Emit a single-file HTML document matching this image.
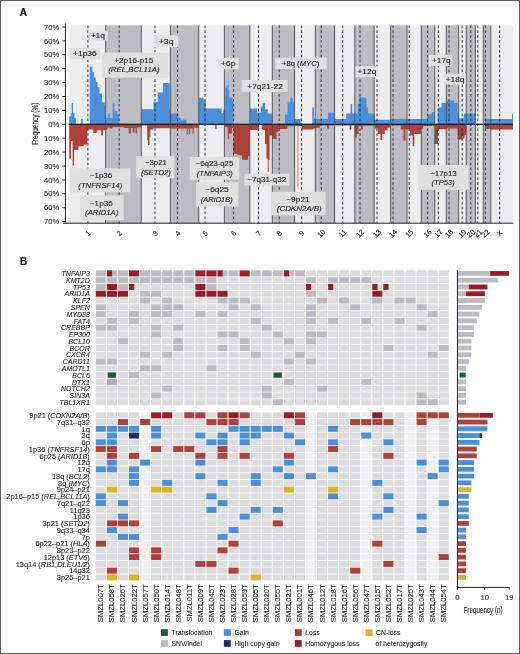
<!DOCTYPE html>
<html><head><meta charset="utf-8"><title>Figure</title>
<style>
html,body{margin:0;padding:0;background:#fff;}
body{width:520px;height:654px;overflow:hidden;}
svg{display:block;font-family:"Liberation Sans", sans-serif;}
svg{will-change:transform}
text{stroke:#222;stroke-width:0.1px;}
text.bx{stroke-width:0.12px;}
</style></head>
<body>
<svg width="520" height="654" viewBox="0 0 520 654">
<rect x="0" y="0" width="520" height="654" fill="#fff"/>
<rect x="68.7" y="25.4" width="36.90" height="197.80" fill="#ececee"/>
<rect x="105.6" y="25.4" width="35.70" height="197.80" fill="#bcbbc2"/>
<rect x="141.3" y="25.4" width="29.10" height="197.80" fill="#ececee"/>
<rect x="170.4" y="25.4" width="28.30" height="197.80" fill="#bcbbc2"/>
<rect x="198.7" y="25.4" width="25.70" height="197.80" fill="#ececee"/>
<rect x="224.4" y="25.4" width="25.40" height="197.80" fill="#bcbbc2"/>
<rect x="249.8" y="25.4" width="22.50" height="197.80" fill="#ececee"/>
<rect x="272.3" y="25.4" width="22.30" height="197.80" fill="#bcbbc2"/>
<rect x="294.6" y="25.4" width="20.70" height="197.80" fill="#ececee"/>
<rect x="315.3" y="25.4" width="19.30" height="197.80" fill="#bcbbc2"/>
<rect x="334.6" y="25.4" width="20.20" height="197.80" fill="#ececee"/>
<rect x="354.8" y="25.4" width="19.40" height="197.80" fill="#bcbbc2"/>
<rect x="374.2" y="25.4" width="16.40" height="197.80" fill="#ececee"/>
<rect x="390.6" y="25.4" width="16.40" height="197.80" fill="#bcbbc2"/>
<rect x="407.0" y="25.4" width="14.30" height="197.80" fill="#ececee"/>
<rect x="421.3" y="25.4" width="13.50" height="197.80" fill="#bcbbc2"/>
<rect x="434.8" y="25.4" width="11.50" height="197.80" fill="#ececee"/>
<rect x="446.3" y="25.4" width="12.40" height="197.80" fill="#bcbbc2"/>
<rect x="458.7" y="25.4" width="7.50" height="197.80" fill="#ececee"/>
<rect x="466.2" y="25.4" width="9.20" height="197.80" fill="#bcbbc2"/>
<rect x="475.4" y="25.4" width="7.90" height="197.80" fill="#ececee"/>
<rect x="483.3" y="25.4" width="7.50" height="197.80" fill="#bcbbc2"/>
<rect x="490.8" y="25.4" width="22.20" height="197.80" fill="#ececee"/>
<rect x="226.7" y="80.5" width="2.5" height="8" fill="#93bbe8"/>
<path d="M69.10,124.30 L69.10,116.30 L70.90,116.30 L70.90,113.60 L71.60,113.60 L71.60,103.10 L73.00,103.10 L73.00,112.80 L74.40,112.80 L74.40,118.00 L75.80,118.00 L75.80,124.30 Z" fill="#4a8fdb"/>
<path d="M81.00,124.30 L81.00,118.90 L82.70,118.90 L82.70,124.30 Z" fill="#4a8fdb"/>
<path d="M89.70,124.30 L89.70,66.70 L92.40,66.70 L92.40,72.30 L94.10,72.30 L94.10,77.60 L95.90,77.60 L95.90,82.00 L97.60,82.00 L97.60,87.30 L99.40,87.30 L99.40,93.40 L102.00,93.40 L102.00,102.20 L104.70,102.20 L104.70,105.70 L105.60,105.70 L105.60,118.00 L108.20,118.00 L108.20,113.60 L110.00,113.60 L110.00,118.00 L112.60,118.00 L112.60,103.10 L114.40,103.10 L114.40,111.00 L117.00,111.00 L117.00,114.50 L118.80,114.50 L118.80,124.30 Z" fill="#4a8fdb"/>
<path d="M141.40,124.30 L141.40,109.20 L153.40,109.20 L153.40,102.20 L157.80,102.20 L157.80,92.50 L163.10,92.50 L163.10,82.90 L169.60,82.90 L169.60,109.20 L170.40,109.20 L170.40,113.60 L178.50,113.60 L178.50,118.00 L181.20,118.00 L181.20,119.80 L186.40,119.80 L186.40,124.30 Z" fill="#4a8fdb"/>
<path d="M198.70,124.30 L198.70,97.80 L203.50,97.80 L203.50,100.50 L205.80,100.50 L205.80,108.40 L221.60,108.40 L221.60,113.00 L223.40,113.00 L223.40,109.20 L224.40,109.20 L224.40,109.20 L225.20,109.20 L225.20,87.60 L226.70,87.60 L226.70,85.00 L228.40,85.00 L228.40,90.00 L229.20,90.00 L229.20,97.70 L232.60,97.70 L232.60,100.00 L233.40,100.00 L233.40,124.30 Z" fill="#4a8fdb"/>
<path d="M249.90,124.30 L249.90,108.40 L257.30,108.40 L257.30,112.80 L260.80,112.80 L260.80,106.60 L262.50,106.60 L262.50,103.10 L265.20,103.10 L265.20,109.20 L267.80,109.20 L267.80,113.60 L272.30,113.60 L272.30,124.30 Z" fill="#4a8fdb"/>
<path d="M285.00,124.30 L285.00,114.50 L287.60,114.50 L287.60,102.20 L290.30,102.20 L290.30,97.80 L292.90,97.80 L292.90,102.20 L294.60,102.20 L294.60,118.90 L300.80,118.90 L300.80,124.30 Z" fill="#4a8fdb"/>
<path d="M312.30,124.30 L312.30,107.50 L314.00,107.50 L314.00,118.90 L315.30,118.90 L315.30,118.90 L328.00,118.90 L328.00,112.80 L334.60,112.80 L334.60,118.90 L346.20,118.90 L346.20,113.60 L350.60,113.60 L350.60,104.00 L352.30,104.00 L352.30,113.60 L357.60,113.60 L357.60,104.00 L359.30,104.00 L359.30,96.90 L362.00,96.90 L362.00,97.80 L366.40,97.80 L366.40,107.50 L368.10,107.50 L368.10,113.60 L375.00,113.60 L375.00,119.80 L390.60,119.80 L390.60,118.90 L407.00,118.90 L407.00,118.90 L421.30,118.90 L421.30,118.90 L427.50,118.90 L427.50,114.50 L431.90,114.50 L431.90,111.90 L434.80,111.90 L434.80,124.30 Z" fill="#4a8fdb"/>
<path d="M437.60,124.30 L437.60,107.50 L441.60,107.50 L441.60,103.10 L446.30,103.10 L446.30,100.40 L454.10,100.40 L454.10,103.10 L457.60,103.10 L457.60,113.00 L458.70,113.00 L458.70,118.30 L463.70,118.30 L463.70,113.70 L466.20,113.70 L466.20,113.60 L475.40,113.60 L475.40,124.30 Z" fill="#4a8fdb"/>
<path d="M485.00,124.30 L485.00,118.90 L490.80,118.90 L490.80,118.90 L512.00,118.90 L512.00,113.60 L513.00,113.60 L513.00,124.30 Z" fill="#4a8fdb"/>
<path d="M69.20,124.30 L69.20,158.50 L70.90,158.50 L70.90,140.90 L72.60,140.90 L72.60,165.50 L74.10,165.50 L74.10,149.70 L78.30,149.70 L78.30,146.20 L83.60,146.20 L83.60,144.40 L87.10,144.40 L87.10,129.50 L89.70,129.50 L89.70,129.50 L93.30,129.50 L93.30,133.00 L96.80,133.00 L96.80,130.30 L101.20,130.30 L101.20,135.60 L103.00,135.60 L103.00,130.30 L105.60,130.30 L105.60,129.50 L107.50,129.50 L107.50,127.60 L109.60,127.60 L109.60,128.50 L112.50,128.50 L112.50,127.00 L124.00,127.00 L124.00,128.00 L128.80,128.00 L128.80,133.40 L130.80,133.40 L130.80,128.00 L132.70,128.00 L132.70,132.50 L134.60,132.50 L134.60,128.00 L135.60,128.00 L135.60,133.40 L137.00,133.40 L137.00,127.60 L141.30,127.60 L141.30,125.60 L147.20,125.60 L147.20,140.00 L148.00,140.00 L148.00,145.00 L149.50,145.00 L149.50,137.00 L150.30,137.00 L150.30,129.50 L153.40,129.50 L153.40,128.20 L170.40,128.20 L170.40,128.60 L186.80,128.60 L186.80,134.50 L187.90,134.50 L187.90,128.60 L189.00,128.60 L189.00,134.50 L190.10,134.50 L190.10,128.60 L192.60,128.60 L192.60,133.50 L193.70,133.50 L193.70,127.70 L198.70,127.70 L198.70,124.30 Z" fill="#b0403a"/>
<path d="M215.30,124.30 L215.30,129.00 L216.60,129.00 L216.60,124.30 Z" fill="#b0403a"/>
<path d="M224.40,124.30 L224.40,127.00 L227.70,127.00 L227.70,139.00 L229.00,139.00 L229.00,133.50 L232.00,133.50 L232.00,128.00 L233.50,128.00 L233.50,153.70 L237.30,153.70 L237.30,155.20 L241.90,155.20 L241.90,159.80 L248.00,159.80 L248.00,156.00 L249.80,156.00 L249.80,130.10 L257.60,130.10 L257.60,128.50 L259.00,128.50 L259.00,125.00 L261.80,125.00 L261.80,129.00 L262.70,129.00 L262.70,130.00 L265.00,130.00 L265.00,144.00 L266.40,144.00 L266.40,158.50 L267.80,158.50 L267.80,172.00 L268.70,172.00 L268.70,160.00 L269.60,160.00 L269.60,135.60 L272.30,135.60 L272.30,139.10 L276.50,139.10 L276.50,132.00 L278.40,132.00 L278.40,129.00 L287.50,129.00 L287.50,126.20 L294.60,126.20 L294.60,126.00 L301.70,126.00 L301.70,129.50 L313.10,129.50 L313.10,128.60 L315.30,128.60 L315.30,127.70 L320.00,127.70 L320.00,125.50 L327.00,125.50 L327.00,128.60 L329.00,128.60 L329.00,125.50 L334.60,125.50 L334.60,125.50 L349.70,125.50 L349.70,129.50 L351.40,129.50 L351.40,125.50 L354.80,125.50 L354.80,137.40 L356.70,137.40 L356.70,133.90 L358.50,133.90 L358.50,125.80 L361.00,125.80 L361.00,129.50 L362.90,129.50 L362.90,125.80 L375.00,125.80 L375.00,128.60 L377.80,128.60 L377.80,133.90 L380.40,133.90 L380.40,140.00 L382.20,140.00 L382.20,133.90 L384.80,133.90 L384.80,130.30 L387.50,130.30 L387.50,127.70 L390.60,127.70 L390.60,125.50 L400.80,125.50 L400.80,129.60 L403.50,129.60 L403.50,140.40 L405.40,140.40 L405.40,129.00 L407.00,129.00 L407.00,129.50 L410.00,129.50 L410.00,135.60 L412.60,135.60 L412.60,146.20 L414.30,146.20 L414.30,133.90 L421.30,133.90 L421.30,128.60 L423.10,128.60 L423.10,126.00 L434.80,126.00 L434.80,144.00 L438.00,144.00 L438.00,129.30 L446.30,129.30 L446.30,128.60 L457.60,128.60 L457.60,139.10 L458.70,139.10 L458.70,139.60 L462.00,139.60 L462.00,138.40 L464.60,138.40 L464.60,135.00 L466.20,135.00 L466.20,124.30 Z" fill="#b0403a"/>
<path d="M485.00,124.30 L485.00,129.00 L490.80,129.00 L490.80,129.50 L513.00,129.50 L513.00,124.30 Z" fill="#b0403a"/>
<line x1="297.9" y1="124.3" x2="297.9" y2="186.5" stroke="#c87570" stroke-width="0.9"/>
<rect x="68.7" y="123.65" width="444.3" height="1.3" fill="#1d1d26"/>
<line x1="105.6" y1="25.4" x2="105.6" y2="223.2" stroke="#4a4a4e" stroke-width="0.9"/>
<line x1="141.3" y1="25.4" x2="141.3" y2="223.2" stroke="#4a4a4e" stroke-width="0.9"/>
<line x1="170.4" y1="25.4" x2="170.4" y2="223.2" stroke="#4a4a4e" stroke-width="0.9"/>
<line x1="198.7" y1="25.4" x2="198.7" y2="223.2" stroke="#4a4a4e" stroke-width="0.9"/>
<line x1="224.4" y1="25.4" x2="224.4" y2="223.2" stroke="#4a4a4e" stroke-width="0.9"/>
<line x1="249.8" y1="25.4" x2="249.8" y2="223.2" stroke="#4a4a4e" stroke-width="0.9"/>
<line x1="272.3" y1="25.4" x2="272.3" y2="223.2" stroke="#4a4a4e" stroke-width="0.9"/>
<line x1="294.6" y1="25.4" x2="294.6" y2="223.2" stroke="#4a4a4e" stroke-width="0.9"/>
<line x1="315.3" y1="25.4" x2="315.3" y2="223.2" stroke="#4a4a4e" stroke-width="0.9"/>
<line x1="334.6" y1="25.4" x2="334.6" y2="223.2" stroke="#4a4a4e" stroke-width="0.9"/>
<line x1="354.8" y1="25.4" x2="354.8" y2="223.2" stroke="#4a4a4e" stroke-width="0.9"/>
<line x1="374.2" y1="25.4" x2="374.2" y2="223.2" stroke="#4a4a4e" stroke-width="0.9"/>
<line x1="390.6" y1="25.4" x2="390.6" y2="223.2" stroke="#4a4a4e" stroke-width="0.9"/>
<line x1="407.0" y1="25.4" x2="407.0" y2="223.2" stroke="#4a4a4e" stroke-width="0.9"/>
<line x1="421.3" y1="25.4" x2="421.3" y2="223.2" stroke="#4a4a4e" stroke-width="0.9"/>
<line x1="434.8" y1="25.4" x2="434.8" y2="223.2" stroke="#4a4a4e" stroke-width="0.9"/>
<line x1="446.3" y1="25.4" x2="446.3" y2="223.2" stroke="#4a4a4e" stroke-width="0.9"/>
<line x1="458.7" y1="25.4" x2="458.7" y2="223.2" stroke="#4a4a4e" stroke-width="0.9"/>
<line x1="466.2" y1="25.4" x2="466.2" y2="223.2" stroke="#4a4a4e" stroke-width="0.9"/>
<line x1="475.4" y1="25.4" x2="475.4" y2="223.2" stroke="#4a4a4e" stroke-width="0.9"/>
<line x1="483.3" y1="25.4" x2="483.3" y2="223.2" stroke="#4a4a4e" stroke-width="0.9"/>
<line x1="490.8" y1="25.4" x2="490.8" y2="223.2" stroke="#4a4a4e" stroke-width="0.9"/>
<line x1="87.9" y1="25.4" x2="87.9" y2="223.2" stroke="#222" stroke-width="0.9" stroke-dasharray="2.7,2.2"/>
<line x1="119.2" y1="25.4" x2="119.2" y2="223.2" stroke="#222" stroke-width="0.9" stroke-dasharray="2.7,2.2"/>
<line x1="155.0" y1="25.4" x2="155.0" y2="223.2" stroke="#222" stroke-width="0.9" stroke-dasharray="2.7,2.2"/>
<line x1="177.5" y1="25.4" x2="177.5" y2="223.2" stroke="#222" stroke-width="0.9" stroke-dasharray="2.7,2.2"/>
<line x1="205.0" y1="25.4" x2="205.0" y2="223.2" stroke="#222" stroke-width="0.9" stroke-dasharray="2.7,2.2"/>
<line x1="233.6" y1="25.4" x2="233.6" y2="223.2" stroke="#222" stroke-width="0.9" stroke-dasharray="2.7,2.2"/>
<line x1="258.5" y1="25.4" x2="258.5" y2="223.2" stroke="#222" stroke-width="0.9" stroke-dasharray="2.7,2.2"/>
<line x1="279.2" y1="25.4" x2="279.2" y2="223.2" stroke="#222" stroke-width="0.9" stroke-dasharray="2.7,2.2"/>
<line x1="301.6" y1="25.4" x2="301.6" y2="223.2" stroke="#222" stroke-width="0.9" stroke-dasharray="2.7,2.2"/>
<line x1="321.2" y1="25.4" x2="321.2" y2="223.2" stroke="#222" stroke-width="0.9" stroke-dasharray="2.7,2.2"/>
<line x1="342.7" y1="25.4" x2="342.7" y2="223.2" stroke="#222" stroke-width="0.9" stroke-dasharray="2.7,2.2"/>
<line x1="360.0" y1="25.4" x2="360.0" y2="223.2" stroke="#222" stroke-width="0.9" stroke-dasharray="2.7,2.2"/>
<line x1="377.0" y1="25.4" x2="377.0" y2="223.2" stroke="#222" stroke-width="0.9" stroke-dasharray="2.7,2.2"/>
<line x1="393.0" y1="25.4" x2="393.0" y2="223.2" stroke="#222" stroke-width="0.9" stroke-dasharray="2.7,2.2"/>
<line x1="409.2" y1="25.4" x2="409.2" y2="223.2" stroke="#222" stroke-width="0.9" stroke-dasharray="2.7,2.2"/>
<line x1="427.6" y1="25.4" x2="427.6" y2="223.2" stroke="#222" stroke-width="0.9" stroke-dasharray="2.7,2.2"/>
<line x1="438.3" y1="25.4" x2="438.3" y2="223.2" stroke="#222" stroke-width="0.9" stroke-dasharray="2.7,2.2"/>
<line x1="449.0" y1="25.4" x2="449.0" y2="223.2" stroke="#222" stroke-width="0.9" stroke-dasharray="2.7,2.2"/>
<line x1="462.2" y1="25.4" x2="462.2" y2="223.2" stroke="#222" stroke-width="0.9" stroke-dasharray="2.7,2.2"/>
<line x1="470.8" y1="25.4" x2="470.8" y2="223.2" stroke="#222" stroke-width="0.9" stroke-dasharray="2.7,2.2"/>
<line x1="477.8" y1="25.4" x2="477.8" y2="223.2" stroke="#222" stroke-width="0.9" stroke-dasharray="2.7,2.2"/>
<line x1="485.4" y1="25.4" x2="485.4" y2="223.2" stroke="#222" stroke-width="0.9" stroke-dasharray="2.7,2.2"/>
<line x1="499.7" y1="25.4" x2="499.7" y2="223.2" stroke="#222" stroke-width="0.9" stroke-dasharray="2.7,2.2"/>
<rect x="88.6" y="30.6" width="19.0" height="9.9" fill="#dfdfe0"/>
<text class="bx" x="97.85" y="38.15" textLength="14.4" lengthAdjust="spacingAndGlyphs" text-anchor="middle" font-size="7.6" fill="#262626">+1q</text>
<rect x="69.2" y="47.9" width="30.8" height="11.5" fill="#dfdfe0"/>
<text class="bx" x="84.85" y="56.25" textLength="23.6" lengthAdjust="spacingAndGlyphs" text-anchor="middle" font-size="7.6" fill="#262626">+1p36</text>
<rect x="101.8" y="52.5" width="66.9" height="25.2" fill="#dfdfe0"/>
<text class="bx" x="133.80" y="63.20" textLength="38.9" lengthAdjust="spacingAndGlyphs" text-anchor="middle" font-size="7.6" fill="#262626">+2p16-p15</text>
<text class="bx" x="133.95" y="72.40" textLength="51.4" lengthAdjust="spacingAndGlyphs" text-anchor="middle" font-size="7.6" font-style="italic" fill="#262626">(REL,BCL11A)</text>
<rect x="153.5" y="35.3" width="24.8" height="11.9" fill="#dfdfe0"/>
<text class="bx" x="166.15" y="43.85" textLength="14.8" lengthAdjust="spacingAndGlyphs" text-anchor="middle" font-size="7.6" fill="#262626">+3q</text>
<rect x="217.4" y="57.8" width="21.1" height="11.5" fill="#dfdfe0"/>
<text class="bx" x="228.15" y="66.15" textLength="14.8" lengthAdjust="spacingAndGlyphs" text-anchor="middle" font-size="7.6" fill="#262626">+6p</text>
<rect x="241.7" y="80.0" width="45.9" height="11.9" fill="#dfdfe0"/>
<text class="bx" x="265.10" y="88.55" textLength="35.5" lengthAdjust="spacingAndGlyphs" text-anchor="middle" font-size="7.6" fill="#262626">+7q21-22</text>
<rect x="275.5" y="57.6" width="51.1" height="11.3" fill="#dfdfe0"/>
<text class="bx" x="300.60" y="65.85" textLength="37.3" lengthAdjust="spacingAndGlyphs" text-anchor="middle" font-size="7.6" fill="#262626">+8q (<tspan font-style="italic">MYC</tspan>)</text>
<rect x="355.5" y="66.2" width="22.5" height="11.0" fill="#dfdfe0"/>
<text class="bx" x="366.90" y="74.30" textLength="18.9" lengthAdjust="spacingAndGlyphs" text-anchor="middle" font-size="7.6" fill="#262626">+12q</text>
<rect x="428.7" y="55.0" width="23.3" height="11.0" fill="#dfdfe0"/>
<text class="bx" x="441.30" y="63.10" textLength="18.5" lengthAdjust="spacingAndGlyphs" text-anchor="middle" font-size="7.6" fill="#262626">+17q</text>
<rect x="443.9" y="73.8" width="22.1" height="10.8" fill="#dfdfe0"/>
<text class="bx" x="455.05" y="81.80" textLength="18.6" lengthAdjust="spacingAndGlyphs" text-anchor="middle" font-size="7.6" fill="#262626">+18q</text>
<rect x="69.4" y="168.3" width="60.9" height="24.0" fill="#dfdfe0"/>
<text class="bx" x="101.00" y="178.40" textLength="22.5" lengthAdjust="spacingAndGlyphs" text-anchor="middle" font-size="7.6" fill="#262626">−1p36</text>
<text class="bx" x="100.35" y="187.60" textLength="44.0" lengthAdjust="spacingAndGlyphs" text-anchor="middle" font-size="7.6" font-style="italic" fill="#262626">(TNFRSF14)</text>
<rect x="80.1" y="195.3" width="43.7" height="24.9" fill="#dfdfe0"/>
<text class="bx" x="101.30" y="205.85" textLength="23.1" lengthAdjust="spacingAndGlyphs" text-anchor="middle" font-size="7.6" fill="#262626">−1p36</text>
<text class="bx" x="101.65" y="215.05" textLength="33.2" lengthAdjust="spacingAndGlyphs" text-anchor="middle" font-size="7.6" font-style="italic" fill="#262626">(ARID1A)</text>
<rect x="136.1" y="156.1" width="38.3" height="22.2" fill="#dfdfe0"/>
<text class="bx" x="155.90" y="165.30" textLength="21.7" lengthAdjust="spacingAndGlyphs" text-anchor="middle" font-size="7.6" fill="#262626">−3p21</text>
<text class="bx" x="155.90" y="174.50" textLength="29.9" lengthAdjust="spacingAndGlyphs" text-anchor="middle" font-size="7.6" font-style="italic" fill="#262626">(SETD2)</text>
<rect x="189.8" y="156.9" width="49.4" height="22.9" fill="#dfdfe0"/>
<text class="bx" x="214.45" y="166.45" textLength="37.8" lengthAdjust="spacingAndGlyphs" text-anchor="middle" font-size="7.6" fill="#262626">−6q23-q25</text>
<text class="bx" x="214.70" y="175.65" textLength="36.1" lengthAdjust="spacingAndGlyphs" text-anchor="middle" font-size="7.6" font-style="italic" fill="#262626">(TNFAIP3)</text>
<rect x="196.0" y="182.1" width="42.6" height="24.4" fill="#dfdfe0"/>
<text class="bx" x="217.05" y="192.40" textLength="23.4" lengthAdjust="spacingAndGlyphs" text-anchor="middle" font-size="7.6" fill="#262626">−6q25</text>
<text class="bx" x="216.70" y="201.60" textLength="32.1" lengthAdjust="spacingAndGlyphs" text-anchor="middle" font-size="7.6" font-style="italic" fill="#262626">(ARID1B)</text>
<rect x="244.3" y="173.7" width="45.0" height="11.7" fill="#dfdfe0"/>
<text class="bx" x="266.80" y="182.15" textLength="38.9" lengthAdjust="spacingAndGlyphs" text-anchor="middle" font-size="7.6" fill="#262626">−7q31-q32</text>
<rect x="271.1" y="191.8" width="54.5" height="23.4" fill="#dfdfe0"/>
<text class="bx" x="297.95" y="201.60" textLength="23.4" lengthAdjust="spacingAndGlyphs" text-anchor="middle" font-size="7.6" fill="#262626">−9p21</text>
<text class="bx" x="299.25" y="210.80" textLength="45.0" lengthAdjust="spacingAndGlyphs" text-anchor="middle" font-size="7.6" font-style="italic" fill="#262626">(CDKN2A/B)</text>
<rect x="418.1" y="165.0" width="50.7" height="24.8" fill="#dfdfe0"/>
<text class="bx" x="443.45" y="175.50" textLength="26.6" lengthAdjust="spacingAndGlyphs" text-anchor="middle" font-size="7.6" fill="#262626">−17p13</text>
<text class="bx" x="443.15" y="184.70" textLength="23.4" lengthAdjust="spacingAndGlyphs" text-anchor="middle" font-size="7.6" font-style="italic" fill="#262626">(TP53)</text>
<line x1="65.4" y1="23.5" x2="65.4" y2="223.7" stroke="#222" stroke-width="1"/>
<line x1="63" y1="223.2" x2="513.4" y2="223.2" stroke="#222" stroke-width="1"/>
<line x1="62.3" y1="221.60" x2="65.4" y2="221.60" stroke="#222" stroke-width="0.9"/>
<text x="59.2" y="224.20" text-anchor="end" font-size="7.65" fill="#2a2a2a">70%</text>
<line x1="62.3" y1="207.70" x2="65.4" y2="207.70" stroke="#222" stroke-width="0.9"/>
<text x="59.2" y="210.30" text-anchor="end" font-size="7.65" fill="#2a2a2a">60%</text>
<line x1="62.3" y1="193.80" x2="65.4" y2="193.80" stroke="#222" stroke-width="0.9"/>
<text x="59.2" y="196.40" text-anchor="end" font-size="7.65" fill="#2a2a2a">50%</text>
<line x1="62.3" y1="179.90" x2="65.4" y2="179.90" stroke="#222" stroke-width="0.9"/>
<text x="59.2" y="182.50" text-anchor="end" font-size="7.65" fill="#2a2a2a">40%</text>
<line x1="62.3" y1="166.00" x2="65.4" y2="166.00" stroke="#222" stroke-width="0.9"/>
<text x="59.2" y="168.60" text-anchor="end" font-size="7.65" fill="#2a2a2a">30%</text>
<line x1="62.3" y1="152.10" x2="65.4" y2="152.10" stroke="#222" stroke-width="0.9"/>
<text x="59.2" y="154.70" text-anchor="end" font-size="7.65" fill="#2a2a2a">20%</text>
<line x1="62.3" y1="138.20" x2="65.4" y2="138.20" stroke="#222" stroke-width="0.9"/>
<text x="59.2" y="140.80" text-anchor="end" font-size="7.65" fill="#2a2a2a">10%</text>
<line x1="62.3" y1="124.30" x2="65.4" y2="124.30" stroke="#222" stroke-width="0.9"/>
<text x="59.2" y="126.90" text-anchor="end" font-size="7.65" fill="#2a2a2a">0%</text>
<line x1="62.3" y1="110.40" x2="65.4" y2="110.40" stroke="#222" stroke-width="0.9"/>
<text x="59.2" y="113.00" text-anchor="end" font-size="7.65" fill="#2a2a2a">10%</text>
<line x1="62.3" y1="96.50" x2="65.4" y2="96.50" stroke="#222" stroke-width="0.9"/>
<text x="59.2" y="99.10" text-anchor="end" font-size="7.65" fill="#2a2a2a">20%</text>
<line x1="62.3" y1="82.60" x2="65.4" y2="82.60" stroke="#222" stroke-width="0.9"/>
<text x="59.2" y="85.20" text-anchor="end" font-size="7.65" fill="#2a2a2a">30%</text>
<line x1="62.3" y1="68.70" x2="65.4" y2="68.70" stroke="#222" stroke-width="0.9"/>
<text x="59.2" y="71.30" text-anchor="end" font-size="7.65" fill="#2a2a2a">40%</text>
<line x1="62.3" y1="54.80" x2="65.4" y2="54.80" stroke="#222" stroke-width="0.9"/>
<text x="59.2" y="57.40" text-anchor="end" font-size="7.65" fill="#2a2a2a">50%</text>
<line x1="62.3" y1="40.90" x2="65.4" y2="40.90" stroke="#222" stroke-width="0.9"/>
<text x="59.2" y="43.50" text-anchor="end" font-size="7.65" fill="#2a2a2a">60%</text>
<line x1="62.3" y1="27.00" x2="65.4" y2="27.00" stroke="#222" stroke-width="0.9"/>
<text x="59.2" y="29.60" text-anchor="end" font-size="7.65" fill="#2a2a2a">70%</text>
<text class="bx" transform="translate(37.9,123.9) rotate(-90) scale(0.78,1)" text-anchor="middle" font-size="8.3" fill="#222">Frequency (%)</text>
<text transform="translate(87.9,233.3) rotate(-45)" text-anchor="middle" y="2.6" font-size="7.3" fill="#2a2a2a">1</text>
<text transform="translate(119.2,233.3) rotate(-45)" text-anchor="middle" y="2.6" font-size="7.3" fill="#2a2a2a">2</text>
<text transform="translate(155.0,233.3) rotate(-45)" text-anchor="middle" y="2.6" font-size="7.3" fill="#2a2a2a">3</text>
<text transform="translate(177.5,233.3) rotate(-45)" text-anchor="middle" y="2.6" font-size="7.3" fill="#2a2a2a">4</text>
<text transform="translate(205.0,233.3) rotate(-45)" text-anchor="middle" y="2.6" font-size="7.3" fill="#2a2a2a">5</text>
<text transform="translate(233.6,233.3) rotate(-45)" text-anchor="middle" y="2.6" font-size="7.3" fill="#2a2a2a">6</text>
<text transform="translate(258.5,233.3) rotate(-45)" text-anchor="middle" y="2.6" font-size="7.3" fill="#2a2a2a">7</text>
<text transform="translate(279.2,233.3) rotate(-45)" text-anchor="middle" y="2.6" font-size="7.3" fill="#2a2a2a">8</text>
<text transform="translate(301.6,233.3) rotate(-45)" text-anchor="middle" y="2.6" font-size="7.3" fill="#2a2a2a">9</text>
<text transform="translate(321.2,233.3) rotate(-45)" text-anchor="middle" y="2.6" font-size="7.3" fill="#2a2a2a">10</text>
<text transform="translate(342.7,233.3) rotate(-45)" text-anchor="middle" y="2.6" font-size="7.3" fill="#2a2a2a">11</text>
<text transform="translate(360.0,233.3) rotate(-45)" text-anchor="middle" y="2.6" font-size="7.3" fill="#2a2a2a">12</text>
<text transform="translate(377.0,233.3) rotate(-45)" text-anchor="middle" y="2.6" font-size="7.3" fill="#2a2a2a">13</text>
<text transform="translate(393.0,233.3) rotate(-45)" text-anchor="middle" y="2.6" font-size="7.3" fill="#2a2a2a">14</text>
<text transform="translate(409.2,233.3) rotate(-45)" text-anchor="middle" y="2.6" font-size="7.3" fill="#2a2a2a">15</text>
<text transform="translate(427.6,233.3) rotate(-45)" text-anchor="middle" y="2.6" font-size="7.3" fill="#2a2a2a">16</text>
<text transform="translate(438.3,233.3) rotate(-45)" text-anchor="middle" y="2.6" font-size="7.3" fill="#2a2a2a">17</text>
<text transform="translate(449.0,233.3) rotate(-45)" text-anchor="middle" y="2.6" font-size="7.3" fill="#2a2a2a">18</text>
<text transform="translate(462.2,233.3) rotate(-45)" text-anchor="middle" y="2.6" font-size="7.3" fill="#2a2a2a">19</text>
<text transform="translate(470.8,233.3) rotate(-45)" text-anchor="middle" y="2.6" font-size="7.3" fill="#2a2a2a">20</text>
<text transform="translate(477.8,233.3) rotate(-45)" text-anchor="middle" y="2.6" font-size="7.3" fill="#2a2a2a">21</text>
<text transform="translate(485.4,233.3) rotate(-45)" text-anchor="middle" y="2.6" font-size="7.3" fill="#2a2a2a">22</text>
<text transform="translate(499.7,233.3) rotate(-45)" text-anchor="middle" y="2.6" font-size="7.3" fill="#2a2a2a">X</text>
<text x="19.6" y="15.9" font-size="10.6" font-weight="bold" fill="#111">A</text>
<text x="19.8" y="264.6" font-size="10.4" font-weight="bold" fill="#111">B</text>
<rect x="95.80" y="270.40" width="10.1" height="6.0" fill="#bbbbc2"/>
<rect x="106.86" y="270.40" width="10.1" height="6.0" fill="#bbbbc2"/>
<rect x="106.86" y="270.40" width="5.2" height="6.0" fill="#9e1a26"/>
<rect x="117.92" y="270.40" width="10.1" height="6.0" fill="#bbbbc2"/>
<rect x="128.98" y="270.40" width="10.1" height="6.0" fill="#9e1a26"/>
<rect x="140.04" y="270.40" width="10.1" height="6.0" fill="#bbbbc2"/>
<rect x="151.10" y="270.40" width="10.1" height="6.0" fill="#bbbbc2"/>
<rect x="162.16" y="270.40" width="10.1" height="6.0" fill="#bbbbc2"/>
<rect x="173.22" y="270.40" width="10.1" height="6.0" fill="#bbbbc2"/>
<rect x="184.28" y="270.40" width="10.1" height="6.0" fill="#bbbbc2"/>
<rect x="195.34" y="270.40" width="10.1" height="6.0" fill="#9e1a26"/>
<rect x="206.40" y="270.40" width="10.1" height="6.0" fill="#9e1a26"/>
<rect x="217.46" y="270.40" width="10.1" height="6.0" fill="#bbbbc2"/>
<rect x="217.46" y="270.40" width="5.2" height="6.0" fill="#9e1a26"/>
<rect x="228.52" y="270.40" width="10.1" height="6.0" fill="#bbbbc2"/>
<rect x="239.58" y="270.40" width="10.1" height="6.0" fill="#9e1a26"/>
<rect x="250.64" y="270.40" width="10.1" height="6.0" fill="#bbbbc2"/>
<rect x="261.70" y="270.40" width="10.1" height="6.0" fill="#bbbbc2"/>
<rect x="272.76" y="270.40" width="10.1" height="6.0" fill="#bbbbc2"/>
<rect x="283.82" y="270.40" width="10.1" height="6.0" fill="#bbbbc2"/>
<rect x="283.82" y="270.40" width="5.2" height="6.0" fill="#9e1a26"/>
<rect x="294.88" y="270.40" width="10.1" height="6.0" fill="#bbbbc2"/>
<rect x="305.94" y="270.40" width="10.1" height="6.0" fill="#dcdcde"/>
<rect x="317.00" y="270.40" width="10.1" height="6.0" fill="#dcdcde"/>
<rect x="328.06" y="270.40" width="10.1" height="6.0" fill="#dcdcde"/>
<rect x="339.12" y="270.40" width="10.1" height="6.0" fill="#dcdcde"/>
<rect x="350.18" y="270.40" width="10.1" height="6.0" fill="#dcdcde"/>
<rect x="361.24" y="270.40" width="10.1" height="6.0" fill="#dcdcde"/>
<rect x="372.30" y="270.40" width="10.1" height="6.0" fill="#dcdcde"/>
<rect x="383.36" y="270.40" width="10.1" height="6.0" fill="#dcdcde"/>
<rect x="394.42" y="270.40" width="10.1" height="6.0" fill="#dcdcde"/>
<rect x="405.48" y="270.40" width="10.1" height="6.0" fill="#dcdcde"/>
<rect x="416.54" y="270.40" width="10.1" height="6.0" fill="#dcdcde"/>
<rect x="427.60" y="270.40" width="10.1" height="6.0" fill="#dcdcde"/>
<rect x="438.66" y="270.40" width="10.1" height="6.0" fill="#dcdcde"/>
<text class="lb" transform="translate(89.8,276.10) scale(1.0,0.95)" text-anchor="end" font-size="7" font-style="italic" fill="#2a2a2a">TNFAIP3</text>
<rect x="95.80" y="277.18" width="10.1" height="6.0" fill="#bbbbc2"/>
<rect x="106.86" y="277.18" width="10.1" height="6.0" fill="#bbbbc2"/>
<rect x="117.92" y="277.18" width="10.1" height="6.0" fill="#bbbbc2"/>
<rect x="128.98" y="277.18" width="10.1" height="6.0" fill="#bbbbc2"/>
<rect x="140.04" y="277.18" width="10.1" height="6.0" fill="#bbbbc2"/>
<rect x="151.10" y="277.18" width="10.1" height="6.0" fill="#bbbbc2"/>
<rect x="162.16" y="277.18" width="10.1" height="6.0" fill="#bbbbc2"/>
<rect x="173.22" y="277.18" width="10.1" height="6.0" fill="#bbbbc2"/>
<rect x="184.28" y="277.18" width="10.1" height="6.0" fill="#bbbbc2"/>
<rect x="195.34" y="277.18" width="10.1" height="6.0" fill="#bbbbc2"/>
<rect x="206.40" y="277.18" width="10.1" height="6.0" fill="#bbbbc2"/>
<rect x="217.46" y="277.18" width="10.1" height="6.0" fill="#dcdcde"/>
<rect x="228.52" y="277.18" width="10.1" height="6.0" fill="#dcdcde"/>
<rect x="239.58" y="277.18" width="10.1" height="6.0" fill="#dcdcde"/>
<rect x="250.64" y="277.18" width="10.1" height="6.0" fill="#dcdcde"/>
<rect x="261.70" y="277.18" width="10.1" height="6.0" fill="#dcdcde"/>
<rect x="272.76" y="277.18" width="10.1" height="6.0" fill="#dcdcde"/>
<rect x="283.82" y="277.18" width="10.1" height="6.0" fill="#dcdcde"/>
<rect x="294.88" y="277.18" width="10.1" height="6.0" fill="#dcdcde"/>
<rect x="305.94" y="277.18" width="10.1" height="6.0" fill="#bbbbc2"/>
<rect x="317.00" y="277.18" width="10.1" height="6.0" fill="#dcdcde"/>
<rect x="328.06" y="277.18" width="10.1" height="6.0" fill="#bbbbc2"/>
<rect x="339.12" y="277.18" width="10.1" height="6.0" fill="#bbbbc2"/>
<rect x="350.18" y="277.18" width="10.1" height="6.0" fill="#bbbbc2"/>
<rect x="361.24" y="277.18" width="10.1" height="6.0" fill="#bbbbc2"/>
<rect x="372.30" y="277.18" width="10.1" height="6.0" fill="#dcdcde"/>
<rect x="383.36" y="277.18" width="10.1" height="6.0" fill="#dcdcde"/>
<rect x="394.42" y="277.18" width="10.1" height="6.0" fill="#dcdcde"/>
<rect x="405.48" y="277.18" width="10.1" height="6.0" fill="#dcdcde"/>
<rect x="416.54" y="277.18" width="10.1" height="6.0" fill="#dcdcde"/>
<rect x="427.60" y="277.18" width="10.1" height="6.0" fill="#dcdcde"/>
<rect x="438.66" y="277.18" width="10.1" height="6.0" fill="#dcdcde"/>
<text class="lb" transform="translate(89.8,282.88) scale(1.0,0.95)" text-anchor="end" font-size="7" font-style="italic" fill="#2a2a2a">KMT2D</text>
<rect x="95.80" y="283.96" width="10.1" height="6.0" fill="#bbbbc2"/>
<rect x="106.86" y="283.96" width="10.1" height="6.0" fill="#9e1a26"/>
<rect x="117.92" y="283.96" width="10.1" height="6.0" fill="#bbbbc2"/>
<rect x="128.98" y="283.96" width="10.1" height="6.0" fill="#dcdcde"/>
<rect x="128.98" y="283.96" width="5.2" height="6.0" fill="#9e1a26"/>
<rect x="140.04" y="283.96" width="10.1" height="6.0" fill="#dcdcde"/>
<rect x="151.10" y="283.96" width="10.1" height="6.0" fill="#dcdcde"/>
<rect x="162.16" y="283.96" width="10.1" height="6.0" fill="#dcdcde"/>
<rect x="173.22" y="283.96" width="10.1" height="6.0" fill="#dcdcde"/>
<rect x="184.28" y="283.96" width="10.1" height="6.0" fill="#dcdcde"/>
<rect x="195.34" y="283.96" width="10.1" height="6.0" fill="#9e1a26"/>
<rect x="206.40" y="283.96" width="10.1" height="6.0" fill="#bbbbc2"/>
<rect x="217.46" y="283.96" width="10.1" height="6.0" fill="#dcdcde"/>
<rect x="228.52" y="283.96" width="10.1" height="6.0" fill="#dcdcde"/>
<rect x="239.58" y="283.96" width="10.1" height="6.0" fill="#dcdcde"/>
<rect x="250.64" y="283.96" width="10.1" height="6.0" fill="#dcdcde"/>
<rect x="261.70" y="283.96" width="10.1" height="6.0" fill="#dcdcde"/>
<rect x="272.76" y="283.96" width="10.1" height="6.0" fill="#dcdcde"/>
<rect x="283.82" y="283.96" width="10.1" height="6.0" fill="#dcdcde"/>
<rect x="294.88" y="283.96" width="10.1" height="6.0" fill="#dcdcde"/>
<rect x="305.94" y="283.96" width="10.1" height="6.0" fill="#dcdcde"/>
<rect x="305.94" y="283.96" width="5.2" height="6.0" fill="#9e1a26"/>
<rect x="317.00" y="283.96" width="10.1" height="6.0" fill="#dcdcde"/>
<rect x="328.06" y="283.96" width="10.1" height="6.0" fill="#dcdcde"/>
<rect x="328.06" y="283.96" width="5.2" height="6.0" fill="#9e1a26"/>
<rect x="339.12" y="283.96" width="10.1" height="6.0" fill="#dcdcde"/>
<rect x="350.18" y="283.96" width="10.1" height="6.0" fill="#dcdcde"/>
<rect x="361.24" y="283.96" width="10.1" height="6.0" fill="#dcdcde"/>
<rect x="372.30" y="283.96" width="10.1" height="6.0" fill="#dcdcde"/>
<rect x="372.30" y="283.96" width="5.2" height="6.0" fill="#9e1a26"/>
<rect x="383.36" y="283.96" width="10.1" height="6.0" fill="#dcdcde"/>
<rect x="383.36" y="283.96" width="5.2" height="6.0" fill="#9e1a26"/>
<rect x="394.42" y="283.96" width="10.1" height="6.0" fill="#dcdcde"/>
<rect x="405.48" y="283.96" width="10.1" height="6.0" fill="#dcdcde"/>
<rect x="416.54" y="283.96" width="10.1" height="6.0" fill="#dcdcde"/>
<rect x="427.60" y="283.96" width="10.1" height="6.0" fill="#dcdcde"/>
<rect x="438.66" y="283.96" width="10.1" height="6.0" fill="#dcdcde"/>
<text class="lb" transform="translate(89.8,289.66) scale(1.0,0.95)" text-anchor="end" font-size="7" font-style="italic" fill="#2a2a2a">TP53</text>
<rect x="95.80" y="290.74" width="10.1" height="6.0" fill="#9e1a26"/>
<rect x="106.86" y="290.74" width="10.1" height="6.0" fill="#9e1a26"/>
<rect x="117.92" y="290.74" width="10.1" height="6.0" fill="#9e1a26"/>
<rect x="128.98" y="290.74" width="10.1" height="6.0" fill="#dcdcde"/>
<rect x="140.04" y="290.74" width="10.1" height="6.0" fill="#bbbbc2"/>
<rect x="151.10" y="290.74" width="10.1" height="6.0" fill="#bbbbc2"/>
<rect x="162.16" y="290.74" width="10.1" height="6.0" fill="#dcdcde"/>
<rect x="173.22" y="290.74" width="10.1" height="6.0" fill="#dcdcde"/>
<rect x="184.28" y="290.74" width="10.1" height="6.0" fill="#dcdcde"/>
<rect x="195.34" y="290.74" width="10.1" height="6.0" fill="#9e1a26"/>
<rect x="206.40" y="290.74" width="10.1" height="6.0" fill="#9e1a26"/>
<rect x="217.46" y="290.74" width="10.1" height="6.0" fill="#9e1a26"/>
<rect x="228.52" y="290.74" width="10.1" height="6.0" fill="#dcdcde"/>
<rect x="239.58" y="290.74" width="10.1" height="6.0" fill="#dcdcde"/>
<rect x="250.64" y="290.74" width="10.1" height="6.0" fill="#dcdcde"/>
<rect x="261.70" y="290.74" width="10.1" height="6.0" fill="#dcdcde"/>
<rect x="272.76" y="290.74" width="10.1" height="6.0" fill="#dcdcde"/>
<rect x="283.82" y="290.74" width="10.1" height="6.0" fill="#dcdcde"/>
<rect x="294.88" y="290.74" width="10.1" height="6.0" fill="#dcdcde"/>
<rect x="305.94" y="290.74" width="10.1" height="6.0" fill="#bbbbc2"/>
<rect x="317.00" y="290.74" width="10.1" height="6.0" fill="#dcdcde"/>
<rect x="328.06" y="290.74" width="10.1" height="6.0" fill="#dcdcde"/>
<rect x="339.12" y="290.74" width="10.1" height="6.0" fill="#dcdcde"/>
<rect x="350.18" y="290.74" width="10.1" height="6.0" fill="#dcdcde"/>
<rect x="361.24" y="290.74" width="10.1" height="6.0" fill="#dcdcde"/>
<rect x="372.30" y="290.74" width="10.1" height="6.0" fill="#9e1a26"/>
<rect x="383.36" y="290.74" width="10.1" height="6.0" fill="#dcdcde"/>
<rect x="394.42" y="290.74" width="10.1" height="6.0" fill="#dcdcde"/>
<rect x="405.48" y="290.74" width="10.1" height="6.0" fill="#dcdcde"/>
<rect x="416.54" y="290.74" width="10.1" height="6.0" fill="#dcdcde"/>
<rect x="427.60" y="290.74" width="10.1" height="6.0" fill="#dcdcde"/>
<rect x="438.66" y="290.74" width="10.1" height="6.0" fill="#dcdcde"/>
<text class="lb" transform="translate(89.8,296.44) scale(1.0,0.95)" text-anchor="end" font-size="7" font-style="italic" fill="#2a2a2a">ARID1A</text>
<rect x="95.80" y="297.52" width="10.1" height="6.0" fill="#dcdcde"/>
<rect x="106.86" y="297.52" width="10.1" height="6.0" fill="#dcdcde"/>
<rect x="117.92" y="297.52" width="10.1" height="6.0" fill="#dcdcde"/>
<rect x="128.98" y="297.52" width="10.1" height="6.0" fill="#dcdcde"/>
<rect x="140.04" y="297.52" width="10.1" height="6.0" fill="#bbbbc2"/>
<rect x="151.10" y="297.52" width="10.1" height="6.0" fill="#dcdcde"/>
<rect x="162.16" y="297.52" width="10.1" height="6.0" fill="#bbbbc2"/>
<rect x="173.22" y="297.52" width="10.1" height="6.0" fill="#dcdcde"/>
<rect x="184.28" y="297.52" width="10.1" height="6.0" fill="#dcdcde"/>
<rect x="195.34" y="297.52" width="10.1" height="6.0" fill="#dcdcde"/>
<rect x="206.40" y="297.52" width="10.1" height="6.0" fill="#dcdcde"/>
<rect x="217.46" y="297.52" width="10.1" height="6.0" fill="#bbbbc2"/>
<rect x="228.52" y="297.52" width="10.1" height="6.0" fill="#bbbbc2"/>
<rect x="239.58" y="297.52" width="10.1" height="6.0" fill="#bbbbc2"/>
<rect x="250.64" y="297.52" width="10.1" height="6.0" fill="#dcdcde"/>
<rect x="261.70" y="297.52" width="10.1" height="6.0" fill="#dcdcde"/>
<rect x="272.76" y="297.52" width="10.1" height="6.0" fill="#dcdcde"/>
<rect x="283.82" y="297.52" width="10.1" height="6.0" fill="#dcdcde"/>
<rect x="294.88" y="297.52" width="10.1" height="6.0" fill="#dcdcde"/>
<rect x="305.94" y="297.52" width="10.1" height="6.0" fill="#dcdcde"/>
<rect x="317.00" y="297.52" width="10.1" height="6.0" fill="#bbbbc2"/>
<rect x="328.06" y="297.52" width="10.1" height="6.0" fill="#dcdcde"/>
<rect x="339.12" y="297.52" width="10.1" height="6.0" fill="#bbbbc2"/>
<rect x="350.18" y="297.52" width="10.1" height="6.0" fill="#dcdcde"/>
<rect x="361.24" y="297.52" width="10.1" height="6.0" fill="#dcdcde"/>
<rect x="372.30" y="297.52" width="10.1" height="6.0" fill="#bbbbc2"/>
<rect x="383.36" y="297.52" width="10.1" height="6.0" fill="#dcdcde"/>
<rect x="394.42" y="297.52" width="10.1" height="6.0" fill="#bbbbc2"/>
<rect x="405.48" y="297.52" width="10.1" height="6.0" fill="#bbbbc2"/>
<rect x="416.54" y="297.52" width="10.1" height="6.0" fill="#dcdcde"/>
<rect x="427.60" y="297.52" width="10.1" height="6.0" fill="#dcdcde"/>
<rect x="438.66" y="297.52" width="10.1" height="6.0" fill="#dcdcde"/>
<text class="lb" transform="translate(89.8,303.22) scale(1.0,0.95)" text-anchor="end" font-size="7" font-style="italic" fill="#2a2a2a">KLF2</text>
<rect x="95.80" y="304.30" width="10.1" height="6.0" fill="#bbbbc2"/>
<rect x="106.86" y="304.30" width="10.1" height="6.0" fill="#dcdcde"/>
<rect x="117.92" y="304.30" width="10.1" height="6.0" fill="#dcdcde"/>
<rect x="128.98" y="304.30" width="10.1" height="6.0" fill="#dcdcde"/>
<rect x="140.04" y="304.30" width="10.1" height="6.0" fill="#dcdcde"/>
<rect x="151.10" y="304.30" width="10.1" height="6.0" fill="#bbbbc2"/>
<rect x="162.16" y="304.30" width="10.1" height="6.0" fill="#bbbbc2"/>
<rect x="173.22" y="304.30" width="10.1" height="6.0" fill="#bbbbc2"/>
<rect x="184.28" y="304.30" width="10.1" height="6.0" fill="#dcdcde"/>
<rect x="195.34" y="304.30" width="10.1" height="6.0" fill="#dcdcde"/>
<rect x="206.40" y="304.30" width="10.1" height="6.0" fill="#dcdcde"/>
<rect x="217.46" y="304.30" width="10.1" height="6.0" fill="#dcdcde"/>
<rect x="228.52" y="304.30" width="10.1" height="6.0" fill="#bbbbc2"/>
<rect x="239.58" y="304.30" width="10.1" height="6.0" fill="#dcdcde"/>
<rect x="250.64" y="304.30" width="10.1" height="6.0" fill="#bbbbc2"/>
<rect x="261.70" y="304.30" width="10.1" height="6.0" fill="#dcdcde"/>
<rect x="272.76" y="304.30" width="10.1" height="6.0" fill="#dcdcde"/>
<rect x="283.82" y="304.30" width="10.1" height="6.0" fill="#dcdcde"/>
<rect x="294.88" y="304.30" width="10.1" height="6.0" fill="#dcdcde"/>
<rect x="305.94" y="304.30" width="10.1" height="6.0" fill="#bbbbc2"/>
<rect x="317.00" y="304.30" width="10.1" height="6.0" fill="#dcdcde"/>
<rect x="328.06" y="304.30" width="10.1" height="6.0" fill="#dcdcde"/>
<rect x="339.12" y="304.30" width="10.1" height="6.0" fill="#dcdcde"/>
<rect x="350.18" y="304.30" width="10.1" height="6.0" fill="#bbbbc2"/>
<rect x="361.24" y="304.30" width="10.1" height="6.0" fill="#dcdcde"/>
<rect x="372.30" y="304.30" width="10.1" height="6.0" fill="#dcdcde"/>
<rect x="383.36" y="304.30" width="10.1" height="6.0" fill="#dcdcde"/>
<rect x="394.42" y="304.30" width="10.1" height="6.0" fill="#dcdcde"/>
<rect x="405.48" y="304.30" width="10.1" height="6.0" fill="#dcdcde"/>
<rect x="416.54" y="304.30" width="10.1" height="6.0" fill="#bbbbc2"/>
<rect x="427.60" y="304.30" width="10.1" height="6.0" fill="#dcdcde"/>
<rect x="438.66" y="304.30" width="10.1" height="6.0" fill="#dcdcde"/>
<text class="lb" transform="translate(89.8,310.00) scale(1.0,0.95)" text-anchor="end" font-size="7" font-style="italic" fill="#2a2a2a">SPEN</text>
<rect x="95.80" y="311.08" width="10.1" height="6.0" fill="#bbbbc2"/>
<rect x="106.86" y="311.08" width="10.1" height="6.0" fill="#dcdcde"/>
<rect x="117.92" y="311.08" width="10.1" height="6.0" fill="#dcdcde"/>
<rect x="128.98" y="311.08" width="10.1" height="6.0" fill="#bbbbc2"/>
<rect x="140.04" y="311.08" width="10.1" height="6.0" fill="#dcdcde"/>
<rect x="151.10" y="311.08" width="10.1" height="6.0" fill="#bbbbc2"/>
<rect x="162.16" y="311.08" width="10.1" height="6.0" fill="#bbbbc2"/>
<rect x="173.22" y="311.08" width="10.1" height="6.0" fill="#dcdcde"/>
<rect x="184.28" y="311.08" width="10.1" height="6.0" fill="#dcdcde"/>
<rect x="195.34" y="311.08" width="10.1" height="6.0" fill="#bbbbc2"/>
<rect x="206.40" y="311.08" width="10.1" height="6.0" fill="#dcdcde"/>
<rect x="217.46" y="311.08" width="10.1" height="6.0" fill="#bbbbc2"/>
<rect x="228.52" y="311.08" width="10.1" height="6.0" fill="#dcdcde"/>
<rect x="239.58" y="311.08" width="10.1" height="6.0" fill="#dcdcde"/>
<rect x="250.64" y="311.08" width="10.1" height="6.0" fill="#dcdcde"/>
<rect x="261.70" y="311.08" width="10.1" height="6.0" fill="#dcdcde"/>
<rect x="272.76" y="311.08" width="10.1" height="6.0" fill="#dcdcde"/>
<rect x="283.82" y="311.08" width="10.1" height="6.0" fill="#dcdcde"/>
<rect x="294.88" y="311.08" width="10.1" height="6.0" fill="#dcdcde"/>
<rect x="305.94" y="311.08" width="10.1" height="6.0" fill="#bbbbc2"/>
<rect x="317.00" y="311.08" width="10.1" height="6.0" fill="#dcdcde"/>
<rect x="328.06" y="311.08" width="10.1" height="6.0" fill="#dcdcde"/>
<rect x="339.12" y="311.08" width="10.1" height="6.0" fill="#dcdcde"/>
<rect x="350.18" y="311.08" width="10.1" height="6.0" fill="#dcdcde"/>
<rect x="361.24" y="311.08" width="10.1" height="6.0" fill="#dcdcde"/>
<rect x="372.30" y="311.08" width="10.1" height="6.0" fill="#dcdcde"/>
<rect x="383.36" y="311.08" width="10.1" height="6.0" fill="#dcdcde"/>
<rect x="394.42" y="311.08" width="10.1" height="6.0" fill="#dcdcde"/>
<rect x="405.48" y="311.08" width="10.1" height="6.0" fill="#dcdcde"/>
<rect x="416.54" y="311.08" width="10.1" height="6.0" fill="#dcdcde"/>
<rect x="427.60" y="311.08" width="10.1" height="6.0" fill="#bbbbc2"/>
<rect x="438.66" y="311.08" width="10.1" height="6.0" fill="#dcdcde"/>
<text class="lb" transform="translate(89.8,316.78) scale(1.0,0.95)" text-anchor="end" font-size="7" font-style="italic" fill="#2a2a2a">MYD88</text>
<rect x="95.80" y="317.86" width="10.1" height="6.0" fill="#dcdcde"/>
<rect x="106.86" y="317.86" width="10.1" height="6.0" fill="#bbbbc2"/>
<rect x="117.92" y="317.86" width="10.1" height="6.0" fill="#dcdcde"/>
<rect x="128.98" y="317.86" width="10.1" height="6.0" fill="#bbbbc2"/>
<rect x="140.04" y="317.86" width="10.1" height="6.0" fill="#dcdcde"/>
<rect x="151.10" y="317.86" width="10.1" height="6.0" fill="#dcdcde"/>
<rect x="162.16" y="317.86" width="10.1" height="6.0" fill="#dcdcde"/>
<rect x="173.22" y="317.86" width="10.1" height="6.0" fill="#dcdcde"/>
<rect x="184.28" y="317.86" width="10.1" height="6.0" fill="#dcdcde"/>
<rect x="195.34" y="317.86" width="10.1" height="6.0" fill="#dcdcde"/>
<rect x="206.40" y="317.86" width="10.1" height="6.0" fill="#dcdcde"/>
<rect x="217.46" y="317.86" width="10.1" height="6.0" fill="#dcdcde"/>
<rect x="228.52" y="317.86" width="10.1" height="6.0" fill="#dcdcde"/>
<rect x="239.58" y="317.86" width="10.1" height="6.0" fill="#dcdcde"/>
<rect x="250.64" y="317.86" width="10.1" height="6.0" fill="#bbbbc2"/>
<rect x="261.70" y="317.86" width="10.1" height="6.0" fill="#dcdcde"/>
<rect x="272.76" y="317.86" width="10.1" height="6.0" fill="#dcdcde"/>
<rect x="283.82" y="317.86" width="10.1" height="6.0" fill="#dcdcde"/>
<rect x="294.88" y="317.86" width="10.1" height="6.0" fill="#dcdcde"/>
<rect x="305.94" y="317.86" width="10.1" height="6.0" fill="#bbbbc2"/>
<rect x="317.00" y="317.86" width="10.1" height="6.0" fill="#dcdcde"/>
<rect x="328.06" y="317.86" width="10.1" height="6.0" fill="#bbbbc2"/>
<rect x="339.12" y="317.86" width="10.1" height="6.0" fill="#dcdcde"/>
<rect x="350.18" y="317.86" width="10.1" height="6.0" fill="#dcdcde"/>
<rect x="361.24" y="317.86" width="10.1" height="6.0" fill="#bbbbc2"/>
<rect x="372.30" y="317.86" width="10.1" height="6.0" fill="#dcdcde"/>
<rect x="383.36" y="317.86" width="10.1" height="6.0" fill="#dcdcde"/>
<rect x="394.42" y="317.86" width="10.1" height="6.0" fill="#bbbbc2"/>
<rect x="405.48" y="317.86" width="10.1" height="6.0" fill="#dcdcde"/>
<rect x="416.54" y="317.86" width="10.1" height="6.0" fill="#dcdcde"/>
<rect x="427.60" y="317.86" width="10.1" height="6.0" fill="#dcdcde"/>
<rect x="438.66" y="317.86" width="10.1" height="6.0" fill="#dcdcde"/>
<text class="lb" transform="translate(89.8,323.56) scale(1.0,0.95)" text-anchor="end" font-size="7" font-style="italic" fill="#2a2a2a">FAT4</text>
<rect x="95.80" y="324.64" width="10.1" height="6.0" fill="#bbbbc2"/>
<rect x="106.86" y="324.64" width="10.1" height="6.0" fill="#bbbbc2"/>
<rect x="117.92" y="324.64" width="10.1" height="6.0" fill="#dcdcde"/>
<rect x="128.98" y="324.64" width="10.1" height="6.0" fill="#dcdcde"/>
<rect x="140.04" y="324.64" width="10.1" height="6.0" fill="#dcdcde"/>
<rect x="151.10" y="324.64" width="10.1" height="6.0" fill="#bbbbc2"/>
<rect x="162.16" y="324.64" width="10.1" height="6.0" fill="#dcdcde"/>
<rect x="173.22" y="324.64" width="10.1" height="6.0" fill="#bbbbc2"/>
<rect x="184.28" y="324.64" width="10.1" height="6.0" fill="#dcdcde"/>
<rect x="195.34" y="324.64" width="10.1" height="6.0" fill="#dcdcde"/>
<rect x="206.40" y="324.64" width="10.1" height="6.0" fill="#dcdcde"/>
<rect x="217.46" y="324.64" width="10.1" height="6.0" fill="#dcdcde"/>
<rect x="228.52" y="324.64" width="10.1" height="6.0" fill="#dcdcde"/>
<rect x="239.58" y="324.64" width="10.1" height="6.0" fill="#dcdcde"/>
<rect x="250.64" y="324.64" width="10.1" height="6.0" fill="#dcdcde"/>
<rect x="261.70" y="324.64" width="10.1" height="6.0" fill="#bbbbc2"/>
<rect x="272.76" y="324.64" width="10.1" height="6.0" fill="#dcdcde"/>
<rect x="283.82" y="324.64" width="10.1" height="6.0" fill="#dcdcde"/>
<rect x="294.88" y="324.64" width="10.1" height="6.0" fill="#dcdcde"/>
<rect x="305.94" y="324.64" width="10.1" height="6.0" fill="#dcdcde"/>
<rect x="317.00" y="324.64" width="10.1" height="6.0" fill="#dcdcde"/>
<rect x="328.06" y="324.64" width="10.1" height="6.0" fill="#dcdcde"/>
<rect x="339.12" y="324.64" width="10.1" height="6.0" fill="#dcdcde"/>
<rect x="350.18" y="324.64" width="10.1" height="6.0" fill="#dcdcde"/>
<rect x="361.24" y="324.64" width="10.1" height="6.0" fill="#dcdcde"/>
<rect x="372.30" y="324.64" width="10.1" height="6.0" fill="#dcdcde"/>
<rect x="383.36" y="324.64" width="10.1" height="6.0" fill="#dcdcde"/>
<rect x="394.42" y="324.64" width="10.1" height="6.0" fill="#dcdcde"/>
<rect x="405.48" y="324.64" width="10.1" height="6.0" fill="#dcdcde"/>
<rect x="416.54" y="324.64" width="10.1" height="6.0" fill="#bbbbc2"/>
<rect x="427.60" y="324.64" width="10.1" height="6.0" fill="#dcdcde"/>
<rect x="438.66" y="324.64" width="10.1" height="6.0" fill="#dcdcde"/>
<text class="lb" transform="translate(89.8,330.34) scale(1.0,0.95)" text-anchor="end" font-size="7" font-style="italic" fill="#2a2a2a">CREBBP</text>
<rect x="95.80" y="331.42" width="10.1" height="6.0" fill="#dcdcde"/>
<rect x="106.86" y="331.42" width="10.1" height="6.0" fill="#dcdcde"/>
<rect x="117.92" y="331.42" width="10.1" height="6.0" fill="#dcdcde"/>
<rect x="128.98" y="331.42" width="10.1" height="6.0" fill="#dcdcde"/>
<rect x="140.04" y="331.42" width="10.1" height="6.0" fill="#dcdcde"/>
<rect x="151.10" y="331.42" width="10.1" height="6.0" fill="#bbbbc2"/>
<rect x="162.16" y="331.42" width="10.1" height="6.0" fill="#dcdcde"/>
<rect x="173.22" y="331.42" width="10.1" height="6.0" fill="#dcdcde"/>
<rect x="184.28" y="331.42" width="10.1" height="6.0" fill="#dcdcde"/>
<rect x="195.34" y="331.42" width="10.1" height="6.0" fill="#dcdcde"/>
<rect x="206.40" y="331.42" width="10.1" height="6.0" fill="#dcdcde"/>
<rect x="217.46" y="331.42" width="10.1" height="6.0" fill="#bbbbc2"/>
<rect x="228.52" y="331.42" width="10.1" height="6.0" fill="#bbbbc2"/>
<rect x="239.58" y="331.42" width="10.1" height="6.0" fill="#dcdcde"/>
<rect x="250.64" y="331.42" width="10.1" height="6.0" fill="#dcdcde"/>
<rect x="261.70" y="331.42" width="10.1" height="6.0" fill="#dcdcde"/>
<rect x="272.76" y="331.42" width="10.1" height="6.0" fill="#bbbbc2"/>
<rect x="283.82" y="331.42" width="10.1" height="6.0" fill="#dcdcde"/>
<rect x="294.88" y="331.42" width="10.1" height="6.0" fill="#dcdcde"/>
<rect x="305.94" y="331.42" width="10.1" height="6.0" fill="#bbbbc2"/>
<rect x="317.00" y="331.42" width="10.1" height="6.0" fill="#bbbbc2"/>
<rect x="328.06" y="331.42" width="10.1" height="6.0" fill="#dcdcde"/>
<rect x="339.12" y="331.42" width="10.1" height="6.0" fill="#dcdcde"/>
<rect x="350.18" y="331.42" width="10.1" height="6.0" fill="#dcdcde"/>
<rect x="361.24" y="331.42" width="10.1" height="6.0" fill="#dcdcde"/>
<rect x="372.30" y="331.42" width="10.1" height="6.0" fill="#dcdcde"/>
<rect x="383.36" y="331.42" width="10.1" height="6.0" fill="#dcdcde"/>
<rect x="394.42" y="331.42" width="10.1" height="6.0" fill="#dcdcde"/>
<rect x="405.48" y="331.42" width="10.1" height="6.0" fill="#dcdcde"/>
<rect x="416.54" y="331.42" width="10.1" height="6.0" fill="#dcdcde"/>
<rect x="427.60" y="331.42" width="10.1" height="6.0" fill="#dcdcde"/>
<rect x="438.66" y="331.42" width="10.1" height="6.0" fill="#dcdcde"/>
<text class="lb" transform="translate(89.8,337.12) scale(1.0,0.95)" text-anchor="end" font-size="7" font-style="italic" fill="#2a2a2a">EP300</text>
<rect x="95.80" y="338.20" width="10.1" height="6.0" fill="#dcdcde"/>
<rect x="106.86" y="338.20" width="10.1" height="6.0" fill="#dcdcde"/>
<rect x="117.92" y="338.20" width="10.1" height="6.0" fill="#bbbbc2"/>
<rect x="128.98" y="338.20" width="10.1" height="6.0" fill="#dcdcde"/>
<rect x="140.04" y="338.20" width="10.1" height="6.0" fill="#dcdcde"/>
<rect x="151.10" y="338.20" width="10.1" height="6.0" fill="#dcdcde"/>
<rect x="162.16" y="338.20" width="10.1" height="6.0" fill="#dcdcde"/>
<rect x="173.22" y="338.20" width="10.1" height="6.0" fill="#bbbbc2"/>
<rect x="184.28" y="338.20" width="10.1" height="6.0" fill="#dcdcde"/>
<rect x="195.34" y="338.20" width="10.1" height="6.0" fill="#dcdcde"/>
<rect x="206.40" y="338.20" width="10.1" height="6.0" fill="#dcdcde"/>
<rect x="217.46" y="338.20" width="10.1" height="6.0" fill="#dcdcde"/>
<rect x="228.52" y="338.20" width="10.1" height="6.0" fill="#dcdcde"/>
<rect x="239.58" y="338.20" width="10.1" height="6.0" fill="#bbbbc2"/>
<rect x="250.64" y="338.20" width="10.1" height="6.0" fill="#dcdcde"/>
<rect x="261.70" y="338.20" width="10.1" height="6.0" fill="#dcdcde"/>
<rect x="272.76" y="338.20" width="10.1" height="6.0" fill="#dcdcde"/>
<rect x="283.82" y="338.20" width="10.1" height="6.0" fill="#bbbbc2"/>
<rect x="294.88" y="338.20" width="10.1" height="6.0" fill="#dcdcde"/>
<rect x="305.94" y="338.20" width="10.1" height="6.0" fill="#bbbbc2"/>
<rect x="317.00" y="338.20" width="10.1" height="6.0" fill="#dcdcde"/>
<rect x="328.06" y="338.20" width="10.1" height="6.0" fill="#dcdcde"/>
<rect x="339.12" y="338.20" width="10.1" height="6.0" fill="#dcdcde"/>
<rect x="350.18" y="338.20" width="10.1" height="6.0" fill="#dcdcde"/>
<rect x="361.24" y="338.20" width="10.1" height="6.0" fill="#dcdcde"/>
<rect x="372.30" y="338.20" width="10.1" height="6.0" fill="#dcdcde"/>
<rect x="383.36" y="338.20" width="10.1" height="6.0" fill="#dcdcde"/>
<rect x="394.42" y="338.20" width="10.1" height="6.0" fill="#dcdcde"/>
<rect x="405.48" y="338.20" width="10.1" height="6.0" fill="#dcdcde"/>
<rect x="416.54" y="338.20" width="10.1" height="6.0" fill="#dcdcde"/>
<rect x="427.60" y="338.20" width="10.1" height="6.0" fill="#dcdcde"/>
<rect x="438.66" y="338.20" width="10.1" height="6.0" fill="#dcdcde"/>
<text class="lb" transform="translate(89.8,343.90) scale(1.0,0.95)" text-anchor="end" font-size="7" font-style="italic" fill="#2a2a2a">BCL10</text>
<rect x="95.80" y="344.98" width="10.1" height="6.0" fill="#dcdcde"/>
<rect x="106.86" y="344.98" width="10.1" height="6.0" fill="#dcdcde"/>
<rect x="117.92" y="344.98" width="10.1" height="6.0" fill="#dcdcde"/>
<rect x="128.98" y="344.98" width="10.1" height="6.0" fill="#dcdcde"/>
<rect x="140.04" y="344.98" width="10.1" height="6.0" fill="#dcdcde"/>
<rect x="151.10" y="344.98" width="10.1" height="6.0" fill="#dcdcde"/>
<rect x="162.16" y="344.98" width="10.1" height="6.0" fill="#dcdcde"/>
<rect x="173.22" y="344.98" width="10.1" height="6.0" fill="#bbbbc2"/>
<rect x="184.28" y="344.98" width="10.1" height="6.0" fill="#dcdcde"/>
<rect x="195.34" y="344.98" width="10.1" height="6.0" fill="#dcdcde"/>
<rect x="206.40" y="344.98" width="10.1" height="6.0" fill="#dcdcde"/>
<rect x="217.46" y="344.98" width="10.1" height="6.0" fill="#bbbbc2"/>
<rect x="228.52" y="344.98" width="10.1" height="6.0" fill="#dcdcde"/>
<rect x="239.58" y="344.98" width="10.1" height="6.0" fill="#bbbbc2"/>
<rect x="250.64" y="344.98" width="10.1" height="6.0" fill="#dcdcde"/>
<rect x="261.70" y="344.98" width="10.1" height="6.0" fill="#dcdcde"/>
<rect x="272.76" y="344.98" width="10.1" height="6.0" fill="#dcdcde"/>
<rect x="283.82" y="344.98" width="10.1" height="6.0" fill="#dcdcde"/>
<rect x="294.88" y="344.98" width="10.1" height="6.0" fill="#dcdcde"/>
<rect x="305.94" y="344.98" width="10.1" height="6.0" fill="#dcdcde"/>
<rect x="317.00" y="344.98" width="10.1" height="6.0" fill="#dcdcde"/>
<rect x="328.06" y="344.98" width="10.1" height="6.0" fill="#dcdcde"/>
<rect x="339.12" y="344.98" width="10.1" height="6.0" fill="#dcdcde"/>
<rect x="350.18" y="344.98" width="10.1" height="6.0" fill="#dcdcde"/>
<rect x="361.24" y="344.98" width="10.1" height="6.0" fill="#dcdcde"/>
<rect x="372.30" y="344.98" width="10.1" height="6.0" fill="#dcdcde"/>
<rect x="383.36" y="344.98" width="10.1" height="6.0" fill="#bbbbc2"/>
<rect x="394.42" y="344.98" width="10.1" height="6.0" fill="#dcdcde"/>
<rect x="405.48" y="344.98" width="10.1" height="6.0" fill="#dcdcde"/>
<rect x="416.54" y="344.98" width="10.1" height="6.0" fill="#dcdcde"/>
<rect x="427.60" y="344.98" width="10.1" height="6.0" fill="#dcdcde"/>
<rect x="438.66" y="344.98" width="10.1" height="6.0" fill="#bbbbc2"/>
<text class="lb" transform="translate(89.8,350.68) scale(1.0,0.95)" text-anchor="end" font-size="7" font-style="italic" fill="#2a2a2a">BCOR</text>
<rect x="95.80" y="351.76" width="10.1" height="6.0" fill="#dcdcde"/>
<rect x="106.86" y="351.76" width="10.1" height="6.0" fill="#dcdcde"/>
<rect x="117.92" y="351.76" width="10.1" height="6.0" fill="#dcdcde"/>
<rect x="128.98" y="351.76" width="10.1" height="6.0" fill="#dcdcde"/>
<rect x="140.04" y="351.76" width="10.1" height="6.0" fill="#bbbbc2"/>
<rect x="151.10" y="351.76" width="10.1" height="6.0" fill="#dcdcde"/>
<rect x="162.16" y="351.76" width="10.1" height="6.0" fill="#bbbbc2"/>
<rect x="173.22" y="351.76" width="10.1" height="6.0" fill="#dcdcde"/>
<rect x="184.28" y="351.76" width="10.1" height="6.0" fill="#dcdcde"/>
<rect x="195.34" y="351.76" width="10.1" height="6.0" fill="#dcdcde"/>
<rect x="206.40" y="351.76" width="10.1" height="6.0" fill="#dcdcde"/>
<rect x="217.46" y="351.76" width="10.1" height="6.0" fill="#dcdcde"/>
<rect x="228.52" y="351.76" width="10.1" height="6.0" fill="#dcdcde"/>
<rect x="239.58" y="351.76" width="10.1" height="6.0" fill="#dcdcde"/>
<rect x="250.64" y="351.76" width="10.1" height="6.0" fill="#bbbbc2"/>
<rect x="261.70" y="351.76" width="10.1" height="6.0" fill="#dcdcde"/>
<rect x="272.76" y="351.76" width="10.1" height="6.0" fill="#dcdcde"/>
<rect x="283.82" y="351.76" width="10.1" height="6.0" fill="#dcdcde"/>
<rect x="294.88" y="351.76" width="10.1" height="6.0" fill="#bbbbc2"/>
<rect x="305.94" y="351.76" width="10.1" height="6.0" fill="#dcdcde"/>
<rect x="317.00" y="351.76" width="10.1" height="6.0" fill="#dcdcde"/>
<rect x="328.06" y="351.76" width="10.1" height="6.0" fill="#dcdcde"/>
<rect x="339.12" y="351.76" width="10.1" height="6.0" fill="#dcdcde"/>
<rect x="350.18" y="351.76" width="10.1" height="6.0" fill="#dcdcde"/>
<rect x="361.24" y="351.76" width="10.1" height="6.0" fill="#dcdcde"/>
<rect x="372.30" y="351.76" width="10.1" height="6.0" fill="#dcdcde"/>
<rect x="383.36" y="351.76" width="10.1" height="6.0" fill="#dcdcde"/>
<rect x="394.42" y="351.76" width="10.1" height="6.0" fill="#dcdcde"/>
<rect x="405.48" y="351.76" width="10.1" height="6.0" fill="#dcdcde"/>
<rect x="416.54" y="351.76" width="10.1" height="6.0" fill="#dcdcde"/>
<rect x="427.60" y="351.76" width="10.1" height="6.0" fill="#bbbbc2"/>
<rect x="438.66" y="351.76" width="10.1" height="6.0" fill="#dcdcde"/>
<text class="lb" transform="translate(89.8,357.46) scale(1.0,0.95)" text-anchor="end" font-size="7" font-style="italic" fill="#2a2a2a">CXCR4</text>
<rect x="95.80" y="358.54" width="10.1" height="6.0" fill="#bbbbc2"/>
<rect x="106.86" y="358.54" width="10.1" height="6.0" fill="#bbbbc2"/>
<rect x="117.92" y="358.54" width="10.1" height="6.0" fill="#dcdcde"/>
<rect x="128.98" y="358.54" width="10.1" height="6.0" fill="#dcdcde"/>
<rect x="140.04" y="358.54" width="10.1" height="6.0" fill="#dcdcde"/>
<rect x="151.10" y="358.54" width="10.1" height="6.0" fill="#dcdcde"/>
<rect x="162.16" y="358.54" width="10.1" height="6.0" fill="#dcdcde"/>
<rect x="173.22" y="358.54" width="10.1" height="6.0" fill="#dcdcde"/>
<rect x="184.28" y="358.54" width="10.1" height="6.0" fill="#dcdcde"/>
<rect x="195.34" y="358.54" width="10.1" height="6.0" fill="#dcdcde"/>
<rect x="206.40" y="358.54" width="10.1" height="6.0" fill="#dcdcde"/>
<rect x="217.46" y="358.54" width="10.1" height="6.0" fill="#dcdcde"/>
<rect x="228.52" y="358.54" width="10.1" height="6.0" fill="#dcdcde"/>
<rect x="239.58" y="358.54" width="10.1" height="6.0" fill="#dcdcde"/>
<rect x="250.64" y="358.54" width="10.1" height="6.0" fill="#dcdcde"/>
<rect x="261.70" y="358.54" width="10.1" height="6.0" fill="#dcdcde"/>
<rect x="272.76" y="358.54" width="10.1" height="6.0" fill="#dcdcde"/>
<rect x="283.82" y="358.54" width="10.1" height="6.0" fill="#bbbbc2"/>
<rect x="294.88" y="358.54" width="10.1" height="6.0" fill="#dcdcde"/>
<rect x="305.94" y="358.54" width="10.1" height="6.0" fill="#bbbbc2"/>
<rect x="317.00" y="358.54" width="10.1" height="6.0" fill="#dcdcde"/>
<rect x="328.06" y="358.54" width="10.1" height="6.0" fill="#dcdcde"/>
<rect x="339.12" y="358.54" width="10.1" height="6.0" fill="#dcdcde"/>
<rect x="350.18" y="358.54" width="10.1" height="6.0" fill="#dcdcde"/>
<rect x="361.24" y="358.54" width="10.1" height="6.0" fill="#dcdcde"/>
<rect x="372.30" y="358.54" width="10.1" height="6.0" fill="#dcdcde"/>
<rect x="383.36" y="358.54" width="10.1" height="6.0" fill="#dcdcde"/>
<rect x="394.42" y="358.54" width="10.1" height="6.0" fill="#dcdcde"/>
<rect x="405.48" y="358.54" width="10.1" height="6.0" fill="#dcdcde"/>
<rect x="416.54" y="358.54" width="10.1" height="6.0" fill="#dcdcde"/>
<rect x="427.60" y="358.54" width="10.1" height="6.0" fill="#dcdcde"/>
<rect x="438.66" y="358.54" width="10.1" height="6.0" fill="#dcdcde"/>
<text class="lb" transform="translate(89.8,364.24) scale(1.0,0.95)" text-anchor="end" font-size="7" font-style="italic" fill="#2a2a2a">CARD11</text>
<rect x="95.80" y="365.32" width="10.1" height="6.0" fill="#dcdcde"/>
<rect x="106.86" y="365.32" width="10.1" height="6.0" fill="#dcdcde"/>
<rect x="117.92" y="365.32" width="10.1" height="6.0" fill="#dcdcde"/>
<rect x="128.98" y="365.32" width="10.1" height="6.0" fill="#dcdcde"/>
<rect x="140.04" y="365.32" width="10.1" height="6.0" fill="#bbbbc2"/>
<rect x="151.10" y="365.32" width="10.1" height="6.0" fill="#bbbbc2"/>
<rect x="162.16" y="365.32" width="10.1" height="6.0" fill="#dcdcde"/>
<rect x="173.22" y="365.32" width="10.1" height="6.0" fill="#dcdcde"/>
<rect x="184.28" y="365.32" width="10.1" height="6.0" fill="#dcdcde"/>
<rect x="195.34" y="365.32" width="10.1" height="6.0" fill="#dcdcde"/>
<rect x="206.40" y="365.32" width="10.1" height="6.0" fill="#bbbbc2"/>
<rect x="217.46" y="365.32" width="10.1" height="6.0" fill="#dcdcde"/>
<rect x="228.52" y="365.32" width="10.1" height="6.0" fill="#dcdcde"/>
<rect x="239.58" y="365.32" width="10.1" height="6.0" fill="#dcdcde"/>
<rect x="250.64" y="365.32" width="10.1" height="6.0" fill="#dcdcde"/>
<rect x="261.70" y="365.32" width="10.1" height="6.0" fill="#dcdcde"/>
<rect x="272.76" y="365.32" width="10.1" height="6.0" fill="#dcdcde"/>
<rect x="283.82" y="365.32" width="10.1" height="6.0" fill="#dcdcde"/>
<rect x="294.88" y="365.32" width="10.1" height="6.0" fill="#dcdcde"/>
<rect x="305.94" y="365.32" width="10.1" height="6.0" fill="#dcdcde"/>
<rect x="317.00" y="365.32" width="10.1" height="6.0" fill="#dcdcde"/>
<rect x="328.06" y="365.32" width="10.1" height="6.0" fill="#dcdcde"/>
<rect x="339.12" y="365.32" width="10.1" height="6.0" fill="#dcdcde"/>
<rect x="350.18" y="365.32" width="10.1" height="6.0" fill="#dcdcde"/>
<rect x="361.24" y="365.32" width="10.1" height="6.0" fill="#dcdcde"/>
<rect x="372.30" y="365.32" width="10.1" height="6.0" fill="#dcdcde"/>
<rect x="383.36" y="365.32" width="10.1" height="6.0" fill="#dcdcde"/>
<rect x="394.42" y="365.32" width="10.1" height="6.0" fill="#dcdcde"/>
<rect x="405.48" y="365.32" width="10.1" height="6.0" fill="#dcdcde"/>
<rect x="416.54" y="365.32" width="10.1" height="6.0" fill="#dcdcde"/>
<rect x="427.60" y="365.32" width="10.1" height="6.0" fill="#dcdcde"/>
<rect x="438.66" y="365.32" width="10.1" height="6.0" fill="#dcdcde"/>
<text class="lb" transform="translate(89.8,371.02) scale(1.0,0.95)" text-anchor="end" font-size="7" font-style="italic" fill="#2a2a2a">AMOTL1</text>
<rect x="95.80" y="372.10" width="10.1" height="6.0" fill="#dcdcde"/>
<rect x="106.86" y="372.10" width="10.1" height="6.0" fill="#dcdcde"/>
<rect x="107.66" y="372.50" width="8.30" height="5.20" fill="#1f5a3c"/>
<rect x="117.92" y="372.10" width="10.1" height="6.0" fill="#dcdcde"/>
<rect x="128.98" y="372.10" width="10.1" height="6.0" fill="#bbbbc2"/>
<rect x="140.04" y="372.10" width="10.1" height="6.0" fill="#dcdcde"/>
<rect x="151.10" y="372.10" width="10.1" height="6.0" fill="#dcdcde"/>
<rect x="162.16" y="372.10" width="10.1" height="6.0" fill="#dcdcde"/>
<rect x="173.22" y="372.10" width="10.1" height="6.0" fill="#dcdcde"/>
<rect x="184.28" y="372.10" width="10.1" height="6.0" fill="#dcdcde"/>
<rect x="195.34" y="372.10" width="10.1" height="6.0" fill="#dcdcde"/>
<rect x="206.40" y="372.10" width="10.1" height="6.0" fill="#dcdcde"/>
<rect x="217.46" y="372.10" width="10.1" height="6.0" fill="#dcdcde"/>
<rect x="228.52" y="372.10" width="10.1" height="6.0" fill="#dcdcde"/>
<rect x="239.58" y="372.10" width="10.1" height="6.0" fill="#dcdcde"/>
<rect x="250.64" y="372.10" width="10.1" height="6.0" fill="#dcdcde"/>
<rect x="261.70" y="372.10" width="10.1" height="6.0" fill="#dcdcde"/>
<rect x="272.76" y="372.10" width="10.1" height="6.0" fill="#dcdcde"/>
<rect x="273.56" y="372.50" width="8.30" height="5.20" fill="#1f5a3c"/>
<rect x="283.82" y="372.10" width="10.1" height="6.0" fill="#dcdcde"/>
<rect x="294.88" y="372.10" width="10.1" height="6.0" fill="#dcdcde"/>
<rect x="305.94" y="372.10" width="10.1" height="6.0" fill="#dcdcde"/>
<rect x="317.00" y="372.10" width="10.1" height="6.0" fill="#dcdcde"/>
<rect x="328.06" y="372.10" width="10.1" height="6.0" fill="#dcdcde"/>
<rect x="339.12" y="372.10" width="10.1" height="6.0" fill="#dcdcde"/>
<rect x="350.18" y="372.10" width="10.1" height="6.0" fill="#dcdcde"/>
<rect x="361.24" y="372.10" width="10.1" height="6.0" fill="#dcdcde"/>
<rect x="372.30" y="372.10" width="10.1" height="6.0" fill="#dcdcde"/>
<rect x="383.36" y="372.10" width="10.1" height="6.0" fill="#dcdcde"/>
<rect x="394.42" y="372.10" width="10.1" height="6.0" fill="#dcdcde"/>
<rect x="405.48" y="372.10" width="10.1" height="6.0" fill="#dcdcde"/>
<rect x="416.54" y="372.10" width="10.1" height="6.0" fill="#dcdcde"/>
<rect x="427.60" y="372.10" width="10.1" height="6.0" fill="#dcdcde"/>
<rect x="438.66" y="372.10" width="10.1" height="6.0" fill="#dcdcde"/>
<text class="lb" transform="translate(89.8,377.80) scale(1.0,0.95)" text-anchor="end" font-size="7" font-style="italic" fill="#2a2a2a">BCL6</text>
<rect x="95.80" y="378.88" width="10.1" height="6.0" fill="#dcdcde"/>
<rect x="106.86" y="378.88" width="10.1" height="6.0" fill="#bba7bb"/>
<rect x="117.92" y="378.88" width="10.1" height="6.0" fill="#dcdcde"/>
<rect x="128.98" y="378.88" width="10.1" height="6.0" fill="#dcdcde"/>
<rect x="140.04" y="378.88" width="10.1" height="6.0" fill="#dcdcde"/>
<rect x="151.10" y="378.88" width="10.1" height="6.0" fill="#dcdcde"/>
<rect x="162.16" y="378.88" width="10.1" height="6.0" fill="#dcdcde"/>
<rect x="173.22" y="378.88" width="10.1" height="6.0" fill="#dcdcde"/>
<rect x="184.28" y="378.88" width="10.1" height="6.0" fill="#dcdcde"/>
<rect x="195.34" y="378.88" width="10.1" height="6.0" fill="#dcdcde"/>
<rect x="206.40" y="378.88" width="10.1" height="6.0" fill="#dcdcde"/>
<rect x="217.46" y="378.88" width="10.1" height="6.0" fill="#dcdcde"/>
<rect x="228.52" y="378.88" width="10.1" height="6.0" fill="#dcdcde"/>
<rect x="239.58" y="378.88" width="10.1" height="6.0" fill="#dcdcde"/>
<rect x="250.64" y="378.88" width="10.1" height="6.0" fill="#dcdcde"/>
<rect x="261.70" y="378.88" width="10.1" height="6.0" fill="#dcdcde"/>
<rect x="272.76" y="378.88" width="10.1" height="6.0" fill="#dcdcde"/>
<rect x="283.82" y="378.88" width="10.1" height="6.0" fill="#bbbbc2"/>
<rect x="294.88" y="378.88" width="10.1" height="6.0" fill="#dcdcde"/>
<rect x="305.94" y="378.88" width="10.1" height="6.0" fill="#dcdcde"/>
<rect x="317.00" y="378.88" width="10.1" height="6.0" fill="#dcdcde"/>
<rect x="328.06" y="378.88" width="10.1" height="6.0" fill="#dcdcde"/>
<rect x="339.12" y="378.88" width="10.1" height="6.0" fill="#dcdcde"/>
<rect x="350.18" y="378.88" width="10.1" height="6.0" fill="#dcdcde"/>
<rect x="361.24" y="378.88" width="10.1" height="6.0" fill="#bbbbc2"/>
<rect x="372.30" y="378.88" width="10.1" height="6.0" fill="#dcdcde"/>
<rect x="383.36" y="378.88" width="10.1" height="6.0" fill="#dcdcde"/>
<rect x="394.42" y="378.88" width="10.1" height="6.0" fill="#dcdcde"/>
<rect x="405.48" y="378.88" width="10.1" height="6.0" fill="#dcdcde"/>
<rect x="416.54" y="378.88" width="10.1" height="6.0" fill="#dcdcde"/>
<rect x="427.60" y="378.88" width="10.1" height="6.0" fill="#dcdcde"/>
<rect x="438.66" y="378.88" width="10.1" height="6.0" fill="#dcdcde"/>
<text class="lb" transform="translate(89.8,384.58) scale(1.0,0.95)" text-anchor="end" font-size="7" font-style="italic" fill="#2a2a2a">DTX1</text>
<rect x="95.80" y="385.66" width="10.1" height="6.0" fill="#dcdcde"/>
<rect x="106.86" y="385.66" width="10.1" height="6.0" fill="#dcdcde"/>
<rect x="117.92" y="385.66" width="10.1" height="6.0" fill="#dcdcde"/>
<rect x="128.98" y="385.66" width="10.1" height="6.0" fill="#dcdcde"/>
<rect x="140.04" y="385.66" width="10.1" height="6.0" fill="#dcdcde"/>
<rect x="151.10" y="385.66" width="10.1" height="6.0" fill="#dcdcde"/>
<rect x="162.16" y="385.66" width="10.1" height="6.0" fill="#bbbbc2"/>
<rect x="173.22" y="385.66" width="10.1" height="6.0" fill="#dcdcde"/>
<rect x="184.28" y="385.66" width="10.1" height="6.0" fill="#dcdcde"/>
<rect x="195.34" y="385.66" width="10.1" height="6.0" fill="#dcdcde"/>
<rect x="206.40" y="385.66" width="10.1" height="6.0" fill="#dcdcde"/>
<rect x="217.46" y="385.66" width="10.1" height="6.0" fill="#dcdcde"/>
<rect x="228.52" y="385.66" width="10.1" height="6.0" fill="#dcdcde"/>
<rect x="239.58" y="385.66" width="10.1" height="6.0" fill="#dcdcde"/>
<rect x="250.64" y="385.66" width="10.1" height="6.0" fill="#dcdcde"/>
<rect x="261.70" y="385.66" width="10.1" height="6.0" fill="#bbbbc2"/>
<rect x="272.76" y="385.66" width="10.1" height="6.0" fill="#dcdcde"/>
<rect x="283.82" y="385.66" width="10.1" height="6.0" fill="#dcdcde"/>
<rect x="294.88" y="385.66" width="10.1" height="6.0" fill="#dcdcde"/>
<rect x="305.94" y="385.66" width="10.1" height="6.0" fill="#dcdcde"/>
<rect x="317.00" y="385.66" width="10.1" height="6.0" fill="#bbbbc2"/>
<rect x="328.06" y="385.66" width="10.1" height="6.0" fill="#dcdcde"/>
<rect x="339.12" y="385.66" width="10.1" height="6.0" fill="#dcdcde"/>
<rect x="350.18" y="385.66" width="10.1" height="6.0" fill="#dcdcde"/>
<rect x="361.24" y="385.66" width="10.1" height="6.0" fill="#dcdcde"/>
<rect x="372.30" y="385.66" width="10.1" height="6.0" fill="#dcdcde"/>
<rect x="383.36" y="385.66" width="10.1" height="6.0" fill="#dcdcde"/>
<rect x="394.42" y="385.66" width="10.1" height="6.0" fill="#dcdcde"/>
<rect x="405.48" y="385.66" width="10.1" height="6.0" fill="#dcdcde"/>
<rect x="416.54" y="385.66" width="10.1" height="6.0" fill="#dcdcde"/>
<rect x="427.60" y="385.66" width="10.1" height="6.0" fill="#dcdcde"/>
<rect x="438.66" y="385.66" width="10.1" height="6.0" fill="#dcdcde"/>
<text class="lb" transform="translate(89.8,391.36) scale(1.0,0.95)" text-anchor="end" font-size="7" font-style="italic" fill="#2a2a2a">NOTCH2</text>
<rect x="95.80" y="392.44" width="10.1" height="6.0" fill="#dcdcde"/>
<rect x="106.86" y="392.44" width="10.1" height="6.0" fill="#dcdcde"/>
<rect x="117.92" y="392.44" width="10.1" height="6.0" fill="#dcdcde"/>
<rect x="128.98" y="392.44" width="10.1" height="6.0" fill="#dcdcde"/>
<rect x="140.04" y="392.44" width="10.1" height="6.0" fill="#dcdcde"/>
<rect x="151.10" y="392.44" width="10.1" height="6.0" fill="#bbbbc2"/>
<rect x="162.16" y="392.44" width="10.1" height="6.0" fill="#dcdcde"/>
<rect x="173.22" y="392.44" width="10.1" height="6.0" fill="#dcdcde"/>
<rect x="184.28" y="392.44" width="10.1" height="6.0" fill="#dcdcde"/>
<rect x="195.34" y="392.44" width="10.1" height="6.0" fill="#dcdcde"/>
<rect x="206.40" y="392.44" width="10.1" height="6.0" fill="#dcdcde"/>
<rect x="217.46" y="392.44" width="10.1" height="6.0" fill="#dcdcde"/>
<rect x="228.52" y="392.44" width="10.1" height="6.0" fill="#dcdcde"/>
<rect x="239.58" y="392.44" width="10.1" height="6.0" fill="#dcdcde"/>
<rect x="250.64" y="392.44" width="10.1" height="6.0" fill="#dcdcde"/>
<rect x="261.70" y="392.44" width="10.1" height="6.0" fill="#bbbbc2"/>
<rect x="272.76" y="392.44" width="10.1" height="6.0" fill="#dcdcde"/>
<rect x="283.82" y="392.44" width="10.1" height="6.0" fill="#dcdcde"/>
<rect x="294.88" y="392.44" width="10.1" height="6.0" fill="#dcdcde"/>
<rect x="305.94" y="392.44" width="10.1" height="6.0" fill="#dcdcde"/>
<rect x="317.00" y="392.44" width="10.1" height="6.0" fill="#dcdcde"/>
<rect x="328.06" y="392.44" width="10.1" height="6.0" fill="#dcdcde"/>
<rect x="339.12" y="392.44" width="10.1" height="6.0" fill="#dcdcde"/>
<rect x="350.18" y="392.44" width="10.1" height="6.0" fill="#dcdcde"/>
<rect x="361.24" y="392.44" width="10.1" height="6.0" fill="#dcdcde"/>
<rect x="372.30" y="392.44" width="10.1" height="6.0" fill="#dcdcde"/>
<rect x="383.36" y="392.44" width="10.1" height="6.0" fill="#dcdcde"/>
<rect x="394.42" y="392.44" width="10.1" height="6.0" fill="#dcdcde"/>
<rect x="405.48" y="392.44" width="10.1" height="6.0" fill="#dcdcde"/>
<rect x="416.54" y="392.44" width="10.1" height="6.0" fill="#bbbbc2"/>
<rect x="427.60" y="392.44" width="10.1" height="6.0" fill="#dcdcde"/>
<rect x="438.66" y="392.44" width="10.1" height="6.0" fill="#dcdcde"/>
<text class="lb" transform="translate(89.8,398.14) scale(1.0,0.95)" text-anchor="end" font-size="7" font-style="italic" fill="#2a2a2a">SIN3A</text>
<rect x="95.80" y="399.22" width="10.1" height="6.0" fill="#dcdcde"/>
<rect x="106.86" y="399.22" width="10.1" height="6.0" fill="#dcdcde"/>
<rect x="117.92" y="399.22" width="10.1" height="6.0" fill="#dcdcde"/>
<rect x="128.98" y="399.22" width="10.1" height="6.0" fill="#dcdcde"/>
<rect x="140.04" y="399.22" width="10.1" height="6.0" fill="#dcdcde"/>
<rect x="151.10" y="399.22" width="10.1" height="6.0" fill="#dcdcde"/>
<rect x="162.16" y="399.22" width="10.1" height="6.0" fill="#dcdcde"/>
<rect x="173.22" y="399.22" width="10.1" height="6.0" fill="#dcdcde"/>
<rect x="184.28" y="399.22" width="10.1" height="6.0" fill="#dcdcde"/>
<rect x="195.34" y="399.22" width="10.1" height="6.0" fill="#dcdcde"/>
<rect x="206.40" y="399.22" width="10.1" height="6.0" fill="#dcdcde"/>
<rect x="217.46" y="399.22" width="10.1" height="6.0" fill="#dcdcde"/>
<rect x="228.52" y="399.22" width="10.1" height="6.0" fill="#dcdcde"/>
<rect x="239.58" y="399.22" width="10.1" height="6.0" fill="#dcdcde"/>
<rect x="250.64" y="399.22" width="10.1" height="6.0" fill="#dcdcde"/>
<rect x="261.70" y="399.22" width="10.1" height="6.0" fill="#dcdcde"/>
<rect x="272.76" y="399.22" width="10.1" height="6.0" fill="#bbbbc2"/>
<rect x="283.82" y="399.22" width="10.1" height="6.0" fill="#dcdcde"/>
<rect x="294.88" y="399.22" width="10.1" height="6.0" fill="#dcdcde"/>
<rect x="305.94" y="399.22" width="10.1" height="6.0" fill="#dcdcde"/>
<rect x="317.00" y="399.22" width="10.1" height="6.0" fill="#dcdcde"/>
<rect x="328.06" y="399.22" width="10.1" height="6.0" fill="#dcdcde"/>
<rect x="339.12" y="399.22" width="10.1" height="6.0" fill="#dcdcde"/>
<rect x="350.18" y="399.22" width="10.1" height="6.0" fill="#dcdcde"/>
<rect x="361.24" y="399.22" width="10.1" height="6.0" fill="#dcdcde"/>
<rect x="372.30" y="399.22" width="10.1" height="6.0" fill="#dcdcde"/>
<rect x="383.36" y="399.22" width="10.1" height="6.0" fill="#dcdcde"/>
<rect x="394.42" y="399.22" width="10.1" height="6.0" fill="#dcdcde"/>
<rect x="405.48" y="399.22" width="10.1" height="6.0" fill="#dcdcde"/>
<rect x="416.54" y="399.22" width="10.1" height="6.0" fill="#bbbbc2"/>
<rect x="427.60" y="399.22" width="10.1" height="6.0" fill="#bbbbc2"/>
<rect x="438.66" y="399.22" width="10.1" height="6.0" fill="#dcdcde"/>
<text class="lb" transform="translate(89.8,404.92) scale(1.0,0.95)" text-anchor="end" font-size="7" font-style="italic" fill="#2a2a2a">TBL1XR1</text>
<rect x="95.80" y="412.30" width="10.1" height="6.0" fill="#dcdcde"/>
<rect x="106.86" y="412.30" width="10.1" height="6.0" fill="#dcdcde"/>
<rect x="117.92" y="412.30" width="10.1" height="6.0" fill="#dcdcde"/>
<rect x="128.98" y="412.30" width="10.1" height="6.0" fill="#dcdcde"/>
<rect x="140.04" y="412.30" width="10.1" height="6.0" fill="#efeff1"/>
<rect x="151.10" y="412.30" width="10.1" height="6.0" fill="#9e1a26"/>
<rect x="162.16" y="412.30" width="10.1" height="6.0" fill="#9e1a26"/>
<rect x="173.22" y="412.30" width="10.1" height="6.0" fill="#dcdcde"/>
<rect x="184.28" y="412.30" width="10.1" height="6.0" fill="#b0403a"/>
<rect x="195.34" y="412.30" width="10.1" height="6.0" fill="#b0403a"/>
<rect x="206.40" y="412.30" width="10.1" height="6.0" fill="#dcdcde"/>
<rect x="217.46" y="412.30" width="10.1" height="6.0" fill="#b0403a"/>
<rect x="228.52" y="412.30" width="10.1" height="6.0" fill="#9e1a26"/>
<rect x="239.58" y="412.30" width="10.1" height="6.0" fill="#b0403a"/>
<rect x="250.64" y="412.30" width="10.1" height="6.0" fill="#dcdcde"/>
<rect x="261.70" y="412.30" width="10.1" height="6.0" fill="#dcdcde"/>
<rect x="272.76" y="412.30" width="10.1" height="6.0" fill="#dcdcde"/>
<rect x="283.82" y="412.30" width="10.1" height="6.0" fill="#9e1a26"/>
<rect x="294.88" y="412.30" width="10.1" height="6.0" fill="#b0403a"/>
<rect x="305.94" y="412.30" width="10.1" height="6.0" fill="#efeff1"/>
<rect x="317.00" y="412.30" width="10.1" height="6.0" fill="#dcdcde"/>
<rect x="328.06" y="412.30" width="10.1" height="6.0" fill="#dcdcde"/>
<rect x="339.12" y="412.30" width="10.1" height="6.0" fill="#dcdcde"/>
<rect x="350.18" y="412.30" width="10.1" height="6.0" fill="#dcdcde"/>
<rect x="361.24" y="412.30" width="10.1" height="6.0" fill="#efeff1"/>
<rect x="372.30" y="412.30" width="10.1" height="6.0" fill="#9e1a26"/>
<rect x="383.36" y="412.30" width="10.1" height="6.0" fill="#dcdcde"/>
<rect x="394.42" y="412.30" width="10.1" height="6.0" fill="#dcdcde"/>
<rect x="405.48" y="412.30" width="10.1" height="6.0" fill="#efeff1"/>
<rect x="416.54" y="412.30" width="10.1" height="6.0" fill="#b0403a"/>
<rect x="427.60" y="412.30" width="10.1" height="6.0" fill="#b0403a"/>
<rect x="438.66" y="412.30" width="10.1" height="6.0" fill="#b0403a"/>
<text class="lb" transform="translate(89.8,418.00) scale(1.03,0.95)" text-anchor="end" font-size="7.2" fill="#2a2a2a">9p21 (<tspan font-style="italic">CDKN2A/B</tspan>)</text>
<rect x="95.80" y="419.05" width="10.1" height="6.0" fill="#dcdcde"/>
<rect x="106.86" y="419.05" width="10.1" height="6.0" fill="#dcdcde"/>
<rect x="117.92" y="419.05" width="10.1" height="6.0" fill="#b0403a"/>
<rect x="128.98" y="419.05" width="10.1" height="6.0" fill="#dcdcde"/>
<rect x="140.04" y="419.05" width="10.1" height="6.0" fill="#b0403a"/>
<rect x="151.10" y="419.05" width="10.1" height="6.0" fill="#dcdcde"/>
<rect x="162.16" y="419.05" width="10.1" height="6.0" fill="#dcdcde"/>
<rect x="173.22" y="419.05" width="10.1" height="6.0" fill="#dcdcde"/>
<rect x="184.28" y="419.05" width="10.1" height="6.0" fill="#dcdcde"/>
<rect x="195.34" y="419.05" width="10.1" height="6.0" fill="#dcdcde"/>
<rect x="206.40" y="419.05" width="10.1" height="6.0" fill="#b0403a"/>
<rect x="217.46" y="419.05" width="10.1" height="6.0" fill="#b0403a"/>
<rect x="228.52" y="419.05" width="10.1" height="6.0" fill="#b0403a"/>
<rect x="239.58" y="419.05" width="10.1" height="6.0" fill="#dcdcde"/>
<rect x="250.64" y="419.05" width="10.1" height="6.0" fill="#dcdcde"/>
<rect x="261.70" y="419.05" width="10.1" height="6.0" fill="#dcdcde"/>
<rect x="272.76" y="419.05" width="10.1" height="6.0" fill="#dcdcde"/>
<rect x="283.82" y="419.05" width="10.1" height="6.0" fill="#dcdcde"/>
<rect x="294.88" y="419.05" width="10.1" height="6.0" fill="#b0403a"/>
<rect x="305.94" y="419.05" width="10.1" height="6.0" fill="#efeff1"/>
<rect x="317.00" y="419.05" width="10.1" height="6.0" fill="#dcdcde"/>
<rect x="328.06" y="419.05" width="10.1" height="6.0" fill="#dcdcde"/>
<rect x="339.12" y="419.05" width="10.1" height="6.0" fill="#dcdcde"/>
<rect x="350.18" y="419.05" width="10.1" height="6.0" fill="#b0403a"/>
<rect x="361.24" y="419.05" width="10.1" height="6.0" fill="#b0403a"/>
<rect x="372.30" y="419.05" width="10.1" height="6.0" fill="#b0403a"/>
<rect x="383.36" y="419.05" width="10.1" height="6.0" fill="#b0403a"/>
<rect x="394.42" y="419.05" width="10.1" height="6.0" fill="#dcdcde"/>
<rect x="405.48" y="419.05" width="10.1" height="6.0" fill="#efeff1"/>
<rect x="416.54" y="419.05" width="10.1" height="6.0" fill="#b0403a"/>
<rect x="427.60" y="419.05" width="10.1" height="6.0" fill="#efeff1"/>
<rect x="438.66" y="419.05" width="10.1" height="6.0" fill="#dcdcde"/>
<text class="lb" transform="translate(89.8,424.75) scale(1.03,0.95)" text-anchor="end" font-size="7.2" fill="#2a2a2a">7q31–q32</text>
<rect x="95.80" y="425.81" width="10.1" height="6.0" fill="#4a8fdb"/>
<rect x="106.86" y="425.81" width="10.1" height="6.0" fill="#4a8fdb"/>
<rect x="117.92" y="425.81" width="10.1" height="6.0" fill="#4a8fdb"/>
<rect x="128.98" y="425.81" width="10.1" height="6.0" fill="#4a8fdb"/>
<rect x="140.04" y="425.81" width="10.1" height="6.0" fill="#efeff1"/>
<rect x="151.10" y="425.81" width="10.1" height="6.0" fill="#4a8fdb"/>
<rect x="162.16" y="425.81" width="10.1" height="6.0" fill="#dcdcde"/>
<rect x="173.22" y="425.81" width="10.1" height="6.0" fill="#dcdcde"/>
<rect x="184.28" y="425.81" width="10.1" height="6.0" fill="#dcdcde"/>
<rect x="195.34" y="425.81" width="10.1" height="6.0" fill="#dcdcde"/>
<rect x="206.40" y="425.81" width="10.1" height="6.0" fill="#dcdcde"/>
<rect x="217.46" y="425.81" width="10.1" height="6.0" fill="#dcdcde"/>
<rect x="228.52" y="425.81" width="10.1" height="6.0" fill="#4a8fdb"/>
<rect x="239.58" y="425.81" width="10.1" height="6.0" fill="#4a8fdb"/>
<rect x="250.64" y="425.81" width="10.1" height="6.0" fill="#4a8fdb"/>
<rect x="261.70" y="425.81" width="10.1" height="6.0" fill="#4a8fdb"/>
<rect x="272.76" y="425.81" width="10.1" height="6.0" fill="#4a8fdb"/>
<rect x="283.82" y="425.81" width="10.1" height="6.0" fill="#dcdcde"/>
<rect x="294.88" y="425.81" width="10.1" height="6.0" fill="#dcdcde"/>
<rect x="305.94" y="425.81" width="10.1" height="6.0" fill="#efeff1"/>
<rect x="317.00" y="425.81" width="10.1" height="6.0" fill="#dcdcde"/>
<rect x="328.06" y="425.81" width="10.1" height="6.0" fill="#4a8fdb"/>
<rect x="339.12" y="425.81" width="10.1" height="6.0" fill="#dcdcde"/>
<rect x="350.18" y="425.81" width="10.1" height="6.0" fill="#dcdcde"/>
<rect x="361.24" y="425.81" width="10.1" height="6.0" fill="#efeff1"/>
<rect x="372.30" y="425.81" width="10.1" height="6.0" fill="#dcdcde"/>
<rect x="383.36" y="425.81" width="10.1" height="6.0" fill="#dcdcde"/>
<rect x="394.42" y="425.81" width="10.1" height="6.0" fill="#dcdcde"/>
<rect x="405.48" y="425.81" width="10.1" height="6.0" fill="#efeff1"/>
<rect x="416.54" y="425.81" width="10.1" height="6.0" fill="#dcdcde"/>
<rect x="427.60" y="425.81" width="10.1" height="6.0" fill="#efeff1"/>
<rect x="438.66" y="425.81" width="10.1" height="6.0" fill="#dcdcde"/>
<text class="lb" transform="translate(89.8,431.51) scale(1.03,0.95)" text-anchor="end" font-size="7.2" fill="#2a2a2a">1q</text>
<rect x="95.80" y="432.56" width="10.1" height="6.0" fill="#dcdcde"/>
<rect x="106.86" y="432.56" width="10.1" height="6.0" fill="#4a8fdb"/>
<rect x="117.92" y="432.56" width="10.1" height="6.0" fill="#dcdcde"/>
<rect x="128.98" y="432.56" width="10.1" height="6.0" fill="#1c2f6e"/>
<rect x="140.04" y="432.56" width="10.1" height="6.0" fill="#efeff1"/>
<rect x="151.10" y="432.56" width="10.1" height="6.0" fill="#4a8fdb"/>
<rect x="162.16" y="432.56" width="10.1" height="6.0" fill="#dcdcde"/>
<rect x="173.22" y="432.56" width="10.1" height="6.0" fill="#dcdcde"/>
<rect x="184.28" y="432.56" width="10.1" height="6.0" fill="#dcdcde"/>
<rect x="195.34" y="432.56" width="10.1" height="6.0" fill="#4a8fdb"/>
<rect x="206.40" y="432.56" width="10.1" height="6.0" fill="#dcdcde"/>
<rect x="217.46" y="432.56" width="10.1" height="6.0" fill="#4a8fdb"/>
<rect x="228.52" y="432.56" width="10.1" height="6.0" fill="#dcdcde"/>
<rect x="239.58" y="432.56" width="10.1" height="6.0" fill="#4a8fdb"/>
<rect x="250.64" y="432.56" width="10.1" height="6.0" fill="#4a8fdb"/>
<rect x="261.70" y="432.56" width="10.1" height="6.0" fill="#dcdcde"/>
<rect x="272.76" y="432.56" width="10.1" height="6.0" fill="#dcdcde"/>
<rect x="283.82" y="432.56" width="10.1" height="6.0" fill="#4a8fdb"/>
<rect x="294.88" y="432.56" width="10.1" height="6.0" fill="#dcdcde"/>
<rect x="305.94" y="432.56" width="10.1" height="6.0" fill="#efeff1"/>
<rect x="317.00" y="432.56" width="10.1" height="6.0" fill="#dcdcde"/>
<rect x="328.06" y="432.56" width="10.1" height="6.0" fill="#dcdcde"/>
<rect x="339.12" y="432.56" width="10.1" height="6.0" fill="#dcdcde"/>
<rect x="350.18" y="432.56" width="10.1" height="6.0" fill="#dcdcde"/>
<rect x="361.24" y="432.56" width="10.1" height="6.0" fill="#4a8fdb"/>
<rect x="372.30" y="432.56" width="10.1" height="6.0" fill="#dcdcde"/>
<rect x="383.36" y="432.56" width="10.1" height="6.0" fill="#dcdcde"/>
<rect x="394.42" y="432.56" width="10.1" height="6.0" fill="#dcdcde"/>
<rect x="405.48" y="432.56" width="10.1" height="6.0" fill="#efeff1"/>
<rect x="416.54" y="432.56" width="10.1" height="6.0" fill="#dcdcde"/>
<rect x="427.60" y="432.56" width="10.1" height="6.0" fill="#efeff1"/>
<rect x="438.66" y="432.56" width="10.1" height="6.0" fill="#dcdcde"/>
<text class="lb" transform="translate(89.8,438.26) scale(1.03,0.95)" text-anchor="end" font-size="7.2" fill="#2a2a2a">3q</text>
<rect x="95.80" y="439.32" width="10.1" height="6.0" fill="#4a8fdb"/>
<rect x="106.86" y="439.32" width="10.1" height="6.0" fill="#4a8fdb"/>
<rect x="117.92" y="439.32" width="10.1" height="6.0" fill="#dcdcde"/>
<rect x="128.98" y="439.32" width="10.1" height="6.0" fill="#dcdcde"/>
<rect x="140.04" y="439.32" width="10.1" height="6.0" fill="#efeff1"/>
<rect x="151.10" y="439.32" width="10.1" height="6.0" fill="#dcdcde"/>
<rect x="162.16" y="439.32" width="10.1" height="6.0" fill="#dcdcde"/>
<rect x="173.22" y="439.32" width="10.1" height="6.0" fill="#dcdcde"/>
<rect x="184.28" y="439.32" width="10.1" height="6.0" fill="#dcdcde"/>
<rect x="195.34" y="439.32" width="10.1" height="6.0" fill="#dcdcde"/>
<rect x="206.40" y="439.32" width="10.1" height="6.0" fill="#4a8fdb"/>
<rect x="217.46" y="439.32" width="10.1" height="6.0" fill="#4a8fdb"/>
<rect x="228.52" y="439.32" width="10.1" height="6.0" fill="#dcdcde"/>
<rect x="239.58" y="439.32" width="10.1" height="6.0" fill="#4a8fdb"/>
<rect x="250.64" y="439.32" width="10.1" height="6.0" fill="#dcdcde"/>
<rect x="261.70" y="439.32" width="10.1" height="6.0" fill="#dcdcde"/>
<rect x="272.76" y="439.32" width="10.1" height="6.0" fill="#dcdcde"/>
<rect x="283.82" y="439.32" width="10.1" height="6.0" fill="#dcdcde"/>
<rect x="294.88" y="439.32" width="10.1" height="6.0" fill="#4a8fdb"/>
<rect x="305.94" y="439.32" width="10.1" height="6.0" fill="#efeff1"/>
<rect x="317.00" y="439.32" width="10.1" height="6.0" fill="#dcdcde"/>
<rect x="328.06" y="439.32" width="10.1" height="6.0" fill="#4a8fdb"/>
<rect x="339.12" y="439.32" width="10.1" height="6.0" fill="#dcdcde"/>
<rect x="350.18" y="439.32" width="10.1" height="6.0" fill="#dcdcde"/>
<rect x="361.24" y="439.32" width="10.1" height="6.0" fill="#efeff1"/>
<rect x="372.30" y="439.32" width="10.1" height="6.0" fill="#dcdcde"/>
<rect x="383.36" y="439.32" width="10.1" height="6.0" fill="#4a8fdb"/>
<rect x="394.42" y="439.32" width="10.1" height="6.0" fill="#dcdcde"/>
<rect x="405.48" y="439.32" width="10.1" height="6.0" fill="#efeff1"/>
<rect x="416.54" y="439.32" width="10.1" height="6.0" fill="#dcdcde"/>
<rect x="427.60" y="439.32" width="10.1" height="6.0" fill="#efeff1"/>
<rect x="438.66" y="439.32" width="10.1" height="6.0" fill="#dcdcde"/>
<text class="lb" transform="translate(89.8,445.02) scale(1.03,0.95)" text-anchor="end" font-size="7.2" fill="#2a2a2a">6p</text>
<rect x="95.80" y="446.07" width="10.1" height="6.0" fill="#b0403a"/>
<rect x="106.86" y="446.07" width="10.1" height="6.0" fill="#b0403a"/>
<rect x="117.92" y="446.07" width="10.1" height="6.0" fill="#dcdcde"/>
<rect x="128.98" y="446.07" width="10.1" height="6.0" fill="#dcdcde"/>
<rect x="140.04" y="446.07" width="10.1" height="6.0" fill="#efeff1"/>
<rect x="151.10" y="446.07" width="10.1" height="6.0" fill="#b0403a"/>
<rect x="162.16" y="446.07" width="10.1" height="6.0" fill="#dcdcde"/>
<rect x="173.22" y="446.07" width="10.1" height="6.0" fill="#b0403a"/>
<rect x="184.28" y="446.07" width="10.1" height="6.0" fill="#b0403a"/>
<rect x="195.34" y="446.07" width="10.1" height="6.0" fill="#dcdcde"/>
<rect x="206.40" y="446.07" width="10.1" height="6.0" fill="#dcdcde"/>
<rect x="217.46" y="446.07" width="10.1" height="6.0" fill="#b0403a"/>
<rect x="228.52" y="446.07" width="10.1" height="6.0" fill="#dcdcde"/>
<rect x="239.58" y="446.07" width="10.1" height="6.0" fill="#dcdcde"/>
<rect x="250.64" y="446.07" width="10.1" height="6.0" fill="#dcdcde"/>
<rect x="261.70" y="446.07" width="10.1" height="6.0" fill="#dcdcde"/>
<rect x="272.76" y="446.07" width="10.1" height="6.0" fill="#dcdcde"/>
<rect x="283.82" y="446.07" width="10.1" height="6.0" fill="#dcdcde"/>
<rect x="294.88" y="446.07" width="10.1" height="6.0" fill="#dcdcde"/>
<rect x="305.94" y="446.07" width="10.1" height="6.0" fill="#efeff1"/>
<rect x="317.00" y="446.07" width="10.1" height="6.0" fill="#dcdcde"/>
<rect x="328.06" y="446.07" width="10.1" height="6.0" fill="#b0403a"/>
<rect x="339.12" y="446.07" width="10.1" height="6.0" fill="#dcdcde"/>
<rect x="350.18" y="446.07" width="10.1" height="6.0" fill="#dcdcde"/>
<rect x="361.24" y="446.07" width="10.1" height="6.0" fill="#efeff1"/>
<rect x="372.30" y="446.07" width="10.1" height="6.0" fill="#dcdcde"/>
<rect x="383.36" y="446.07" width="10.1" height="6.0" fill="#dcdcde"/>
<rect x="394.42" y="446.07" width="10.1" height="6.0" fill="#dcdcde"/>
<rect x="405.48" y="446.07" width="10.1" height="6.0" fill="#efeff1"/>
<rect x="416.54" y="446.07" width="10.1" height="6.0" fill="#dcdcde"/>
<rect x="427.60" y="446.07" width="10.1" height="6.0" fill="#efeff1"/>
<rect x="438.66" y="446.07" width="10.1" height="6.0" fill="#dcdcde"/>
<text class="lb" transform="translate(89.8,451.77) scale(1.03,0.95)" text-anchor="end" font-size="7.2" fill="#2a2a2a">1p36 (<tspan font-style="italic">TNFRSF14</tspan>)</text>
<rect x="95.80" y="452.82" width="10.1" height="6.0" fill="#dcdcde"/>
<rect x="106.86" y="452.82" width="10.1" height="6.0" fill="#b0403a"/>
<rect x="117.92" y="452.82" width="10.1" height="6.0" fill="#dcdcde"/>
<rect x="128.98" y="452.82" width="10.1" height="6.0" fill="#b0403a"/>
<rect x="140.04" y="452.82" width="10.1" height="6.0" fill="#efeff1"/>
<rect x="151.10" y="452.82" width="10.1" height="6.0" fill="#dcdcde"/>
<rect x="162.16" y="452.82" width="10.1" height="6.0" fill="#dcdcde"/>
<rect x="173.22" y="452.82" width="10.1" height="6.0" fill="#dcdcde"/>
<rect x="184.28" y="452.82" width="10.1" height="6.0" fill="#dcdcde"/>
<rect x="195.34" y="452.82" width="10.1" height="6.0" fill="#b0403a"/>
<rect x="206.40" y="452.82" width="10.1" height="6.0" fill="#dcdcde"/>
<rect x="217.46" y="452.82" width="10.1" height="6.0" fill="#b0403a"/>
<rect x="228.52" y="452.82" width="10.1" height="6.0" fill="#dcdcde"/>
<rect x="239.58" y="452.82" width="10.1" height="6.0" fill="#b0403a"/>
<rect x="250.64" y="452.82" width="10.1" height="6.0" fill="#dcdcde"/>
<rect x="261.70" y="452.82" width="10.1" height="6.0" fill="#dcdcde"/>
<rect x="272.76" y="452.82" width="10.1" height="6.0" fill="#dcdcde"/>
<rect x="283.82" y="452.82" width="10.1" height="6.0" fill="#b0403a"/>
<rect x="294.88" y="452.82" width="10.1" height="6.0" fill="#dcdcde"/>
<rect x="305.94" y="452.82" width="10.1" height="6.0" fill="#efeff1"/>
<rect x="317.00" y="452.82" width="10.1" height="6.0" fill="#dcdcde"/>
<rect x="328.06" y="452.82" width="10.1" height="6.0" fill="#dcdcde"/>
<rect x="339.12" y="452.82" width="10.1" height="6.0" fill="#dcdcde"/>
<rect x="350.18" y="452.82" width="10.1" height="6.0" fill="#dcdcde"/>
<rect x="361.24" y="452.82" width="10.1" height="6.0" fill="#efeff1"/>
<rect x="372.30" y="452.82" width="10.1" height="6.0" fill="#dcdcde"/>
<rect x="383.36" y="452.82" width="10.1" height="6.0" fill="#b0403a"/>
<rect x="394.42" y="452.82" width="10.1" height="6.0" fill="#dcdcde"/>
<rect x="405.48" y="452.82" width="10.1" height="6.0" fill="#efeff1"/>
<rect x="416.54" y="452.82" width="10.1" height="6.0" fill="#dcdcde"/>
<rect x="427.60" y="452.82" width="10.1" height="6.0" fill="#efeff1"/>
<rect x="438.66" y="452.82" width="10.1" height="6.0" fill="#dcdcde"/>
<text class="lb" transform="translate(89.8,458.52) scale(1.03,0.95)" text-anchor="end" font-size="7.2" fill="#2a2a2a">6p25 (<tspan font-style="italic">ARID1B</tspan>)</text>
<rect x="95.80" y="459.58" width="10.1" height="6.0" fill="#dcdcde"/>
<rect x="106.86" y="459.58" width="10.1" height="6.0" fill="#4a8fdb"/>
<rect x="117.92" y="459.58" width="10.1" height="6.0" fill="#dcdcde"/>
<rect x="128.98" y="459.58" width="10.1" height="6.0" fill="#dcdcde"/>
<rect x="140.04" y="459.58" width="10.1" height="6.0" fill="#4a8fdb"/>
<rect x="151.10" y="459.58" width="10.1" height="6.0" fill="#dcdcde"/>
<rect x="162.16" y="459.58" width="10.1" height="6.0" fill="#dcdcde"/>
<rect x="173.22" y="459.58" width="10.1" height="6.0" fill="#dcdcde"/>
<rect x="184.28" y="459.58" width="10.1" height="6.0" fill="#dcdcde"/>
<rect x="195.34" y="459.58" width="10.1" height="6.0" fill="#4a8fdb"/>
<rect x="206.40" y="459.58" width="10.1" height="6.0" fill="#dcdcde"/>
<rect x="217.46" y="459.58" width="10.1" height="6.0" fill="#dcdcde"/>
<rect x="228.52" y="459.58" width="10.1" height="6.0" fill="#dcdcde"/>
<rect x="239.58" y="459.58" width="10.1" height="6.0" fill="#dcdcde"/>
<rect x="250.64" y="459.58" width="10.1" height="6.0" fill="#dcdcde"/>
<rect x="261.70" y="459.58" width="10.1" height="6.0" fill="#dcdcde"/>
<rect x="272.76" y="459.58" width="10.1" height="6.0" fill="#dcdcde"/>
<rect x="283.82" y="459.58" width="10.1" height="6.0" fill="#4a8fdb"/>
<rect x="294.88" y="459.58" width="10.1" height="6.0" fill="#dcdcde"/>
<rect x="305.94" y="459.58" width="10.1" height="6.0" fill="#efeff1"/>
<rect x="317.00" y="459.58" width="10.1" height="6.0" fill="#dcdcde"/>
<rect x="328.06" y="459.58" width="10.1" height="6.0" fill="#dcdcde"/>
<rect x="339.12" y="459.58" width="10.1" height="6.0" fill="#dcdcde"/>
<rect x="350.18" y="459.58" width="10.1" height="6.0" fill="#dcdcde"/>
<rect x="361.24" y="459.58" width="10.1" height="6.0" fill="#efeff1"/>
<rect x="372.30" y="459.58" width="10.1" height="6.0" fill="#dcdcde"/>
<rect x="383.36" y="459.58" width="10.1" height="6.0" fill="#dcdcde"/>
<rect x="394.42" y="459.58" width="10.1" height="6.0" fill="#dcdcde"/>
<rect x="405.48" y="459.58" width="10.1" height="6.0" fill="#efeff1"/>
<rect x="416.54" y="459.58" width="10.1" height="6.0" fill="#4a8fdb"/>
<rect x="427.60" y="459.58" width="10.1" height="6.0" fill="#efeff1"/>
<rect x="438.66" y="459.58" width="10.1" height="6.0" fill="#4a8fdb"/>
<text class="lb" transform="translate(89.8,465.28) scale(1.03,0.95)" text-anchor="end" font-size="7.2" fill="#2a2a2a">12q</text>
<rect x="95.80" y="466.33" width="10.1" height="6.0" fill="#4a8fdb"/>
<rect x="106.86" y="466.33" width="10.1" height="6.0" fill="#4a8fdb"/>
<rect x="117.92" y="466.33" width="10.1" height="6.0" fill="#dcdcde"/>
<rect x="128.98" y="466.33" width="10.1" height="6.0" fill="#4a8fdb"/>
<rect x="140.04" y="466.33" width="10.1" height="6.0" fill="#efeff1"/>
<rect x="151.10" y="466.33" width="10.1" height="6.0" fill="#dcdcde"/>
<rect x="162.16" y="466.33" width="10.1" height="6.0" fill="#dcdcde"/>
<rect x="173.22" y="466.33" width="10.1" height="6.0" fill="#dcdcde"/>
<rect x="184.28" y="466.33" width="10.1" height="6.0" fill="#dcdcde"/>
<rect x="195.34" y="466.33" width="10.1" height="6.0" fill="#dcdcde"/>
<rect x="206.40" y="466.33" width="10.1" height="6.0" fill="#dcdcde"/>
<rect x="217.46" y="466.33" width="10.1" height="6.0" fill="#dcdcde"/>
<rect x="228.52" y="466.33" width="10.1" height="6.0" fill="#dcdcde"/>
<rect x="239.58" y="466.33" width="10.1" height="6.0" fill="#dcdcde"/>
<rect x="250.64" y="466.33" width="10.1" height="6.0" fill="#dcdcde"/>
<rect x="261.70" y="466.33" width="10.1" height="6.0" fill="#dcdcde"/>
<rect x="272.76" y="466.33" width="10.1" height="6.0" fill="#4a8fdb"/>
<rect x="283.82" y="466.33" width="10.1" height="6.0" fill="#dcdcde"/>
<rect x="294.88" y="466.33" width="10.1" height="6.0" fill="#dcdcde"/>
<rect x="305.94" y="466.33" width="10.1" height="6.0" fill="#efeff1"/>
<rect x="317.00" y="466.33" width="10.1" height="6.0" fill="#dcdcde"/>
<rect x="328.06" y="466.33" width="10.1" height="6.0" fill="#4a8fdb"/>
<rect x="339.12" y="466.33" width="10.1" height="6.0" fill="#dcdcde"/>
<rect x="350.18" y="466.33" width="10.1" height="6.0" fill="#dcdcde"/>
<rect x="361.24" y="466.33" width="10.1" height="6.0" fill="#efeff1"/>
<rect x="372.30" y="466.33" width="10.1" height="6.0" fill="#dcdcde"/>
<rect x="383.36" y="466.33" width="10.1" height="6.0" fill="#dcdcde"/>
<rect x="394.42" y="466.33" width="10.1" height="6.0" fill="#dcdcde"/>
<rect x="405.48" y="466.33" width="10.1" height="6.0" fill="#efeff1"/>
<rect x="416.54" y="466.33" width="10.1" height="6.0" fill="#dcdcde"/>
<rect x="427.60" y="466.33" width="10.1" height="6.0" fill="#efeff1"/>
<rect x="438.66" y="466.33" width="10.1" height="6.0" fill="#4a8fdb"/>
<text class="lb" transform="translate(89.8,472.03) scale(1.03,0.95)" text-anchor="end" font-size="7.2" fill="#2a2a2a">17q</text>
<rect x="95.80" y="473.09" width="10.1" height="6.0" fill="#dcdcde"/>
<rect x="106.86" y="473.09" width="10.1" height="6.0" fill="#dcdcde"/>
<rect x="117.92" y="473.09" width="10.1" height="6.0" fill="#dcdcde"/>
<rect x="128.98" y="473.09" width="10.1" height="6.0" fill="#4a8fdb"/>
<rect x="140.04" y="473.09" width="10.1" height="6.0" fill="#efeff1"/>
<rect x="151.10" y="473.09" width="10.1" height="6.0" fill="#dcdcde"/>
<rect x="162.16" y="473.09" width="10.1" height="6.0" fill="#dcdcde"/>
<rect x="173.22" y="473.09" width="10.1" height="6.0" fill="#dcdcde"/>
<rect x="184.28" y="473.09" width="10.1" height="6.0" fill="#dcdcde"/>
<rect x="195.34" y="473.09" width="10.1" height="6.0" fill="#4a8fdb"/>
<rect x="206.40" y="473.09" width="10.1" height="6.0" fill="#dcdcde"/>
<rect x="217.46" y="473.09" width="10.1" height="6.0" fill="#dcdcde"/>
<rect x="228.52" y="473.09" width="10.1" height="6.0" fill="#dcdcde"/>
<rect x="239.58" y="473.09" width="10.1" height="6.0" fill="#dcdcde"/>
<rect x="250.64" y="473.09" width="10.1" height="6.0" fill="#4a8fdb"/>
<rect x="261.70" y="473.09" width="10.1" height="6.0" fill="#dcdcde"/>
<rect x="272.76" y="473.09" width="10.1" height="6.0" fill="#dcdcde"/>
<rect x="283.82" y="473.09" width="10.1" height="6.0" fill="#4a8fdb"/>
<rect x="294.88" y="473.09" width="10.1" height="6.0" fill="#dcdcde"/>
<rect x="305.94" y="473.09" width="10.1" height="6.0" fill="#4a8fdb"/>
<rect x="317.00" y="473.09" width="10.1" height="6.0" fill="#dcdcde"/>
<rect x="328.06" y="473.09" width="10.1" height="6.0" fill="#dcdcde"/>
<rect x="339.12" y="473.09" width="10.1" height="6.0" fill="#dcdcde"/>
<rect x="350.18" y="473.09" width="10.1" height="6.0" fill="#dcdcde"/>
<rect x="361.24" y="473.09" width="10.1" height="6.0" fill="#efeff1"/>
<rect x="372.30" y="473.09" width="10.1" height="6.0" fill="#dcdcde"/>
<rect x="383.36" y="473.09" width="10.1" height="6.0" fill="#dcdcde"/>
<rect x="394.42" y="473.09" width="10.1" height="6.0" fill="#dcdcde"/>
<rect x="405.48" y="473.09" width="10.1" height="6.0" fill="#efeff1"/>
<rect x="416.54" y="473.09" width="10.1" height="6.0" fill="#dcdcde"/>
<rect x="427.60" y="473.09" width="10.1" height="6.0" fill="#4a8fdb"/>
<rect x="438.66" y="473.09" width="10.1" height="6.0" fill="#dcdcde"/>
<text class="lb" transform="translate(89.8,478.79) scale(1.03,0.95)" text-anchor="end" font-size="7.2" fill="#2a2a2a">18q (<tspan font-style="italic">BCL2</tspan>)</text>
<rect x="95.80" y="479.84" width="10.1" height="6.0" fill="#dcdcde"/>
<rect x="106.86" y="479.84" width="10.1" height="6.0" fill="#dcdcde"/>
<rect x="117.92" y="479.84" width="10.1" height="6.0" fill="#dcdcde"/>
<rect x="128.98" y="479.84" width="10.1" height="6.0" fill="#4a8fdb"/>
<rect x="140.04" y="479.84" width="10.1" height="6.0" fill="#efeff1"/>
<rect x="151.10" y="479.84" width="10.1" height="6.0" fill="#dcdcde"/>
<rect x="162.16" y="479.84" width="10.1" height="6.0" fill="#4a8fdb"/>
<rect x="173.22" y="479.84" width="10.1" height="6.0" fill="#dcdcde"/>
<rect x="184.28" y="479.84" width="10.1" height="6.0" fill="#dcdcde"/>
<rect x="195.34" y="479.84" width="10.1" height="6.0" fill="#dcdcde"/>
<rect x="206.40" y="479.84" width="10.1" height="6.0" fill="#dcdcde"/>
<rect x="217.46" y="479.84" width="10.1" height="6.0" fill="#4a8fdb"/>
<rect x="228.52" y="479.84" width="10.1" height="6.0" fill="#dcdcde"/>
<rect x="239.58" y="479.84" width="10.1" height="6.0" fill="#dcdcde"/>
<rect x="250.64" y="479.84" width="10.1" height="6.0" fill="#4a8fdb"/>
<rect x="261.70" y="479.84" width="10.1" height="6.0" fill="#dcdcde"/>
<rect x="272.76" y="479.84" width="10.1" height="6.0" fill="#dcdcde"/>
<rect x="283.82" y="479.84" width="10.1" height="6.0" fill="#dcdcde"/>
<rect x="294.88" y="479.84" width="10.1" height="6.0" fill="#dcdcde"/>
<rect x="305.94" y="479.84" width="10.1" height="6.0" fill="#efeff1"/>
<rect x="317.00" y="479.84" width="10.1" height="6.0" fill="#dcdcde"/>
<rect x="328.06" y="479.84" width="10.1" height="6.0" fill="#dcdcde"/>
<rect x="339.12" y="479.84" width="10.1" height="6.0" fill="#dcdcde"/>
<rect x="350.18" y="479.84" width="10.1" height="6.0" fill="#dcdcde"/>
<rect x="361.24" y="479.84" width="10.1" height="6.0" fill="#efeff1"/>
<rect x="372.30" y="479.84" width="10.1" height="6.0" fill="#4a8fdb"/>
<rect x="383.36" y="479.84" width="10.1" height="6.0" fill="#dcdcde"/>
<rect x="394.42" y="479.84" width="10.1" height="6.0" fill="#dcdcde"/>
<rect x="405.48" y="479.84" width="10.1" height="6.0" fill="#efeff1"/>
<rect x="416.54" y="479.84" width="10.1" height="6.0" fill="#dcdcde"/>
<rect x="427.60" y="479.84" width="10.1" height="6.0" fill="#efeff1"/>
<rect x="438.66" y="479.84" width="10.1" height="6.0" fill="#dcdcde"/>
<text class="lb" transform="translate(89.8,485.54) scale(1.03,0.95)" text-anchor="end" font-size="7.2" fill="#2a2a2a">8q (<tspan font-style="italic">MYC</tspan>)</text>
<rect x="95.80" y="486.59" width="10.1" height="6.0" fill="#dcdcde"/>
<rect x="106.86" y="486.59" width="10.1" height="6.0" fill="#e1b121"/>
<rect x="117.92" y="486.59" width="10.1" height="6.0" fill="#dcdcde"/>
<rect x="128.98" y="486.59" width="10.1" height="6.0" fill="#dcdcde"/>
<rect x="140.04" y="486.59" width="10.1" height="6.0" fill="#efeff1"/>
<rect x="151.10" y="486.59" width="10.1" height="6.0" fill="#e1b121"/>
<rect x="162.16" y="486.59" width="10.1" height="6.0" fill="#e1b121"/>
<rect x="173.22" y="486.59" width="10.1" height="6.0" fill="#dcdcde"/>
<rect x="184.28" y="486.59" width="10.1" height="6.0" fill="#dcdcde"/>
<rect x="195.34" y="486.59" width="10.1" height="6.0" fill="#dcdcde"/>
<rect x="206.40" y="486.59" width="10.1" height="6.0" fill="#dcdcde"/>
<rect x="217.46" y="486.59" width="10.1" height="6.0" fill="#dcdcde"/>
<rect x="228.52" y="486.59" width="10.1" height="6.0" fill="#dcdcde"/>
<rect x="239.58" y="486.59" width="10.1" height="6.0" fill="#dcdcde"/>
<rect x="250.64" y="486.59" width="10.1" height="6.0" fill="#dcdcde"/>
<rect x="261.70" y="486.59" width="10.1" height="6.0" fill="#dcdcde"/>
<rect x="272.76" y="486.59" width="10.1" height="6.0" fill="#dcdcde"/>
<rect x="283.82" y="486.59" width="10.1" height="6.0" fill="#e1b121"/>
<rect x="294.88" y="486.59" width="10.1" height="6.0" fill="#dcdcde"/>
<rect x="305.94" y="486.59" width="10.1" height="6.0" fill="#efeff1"/>
<rect x="317.00" y="486.59" width="10.1" height="6.0" fill="#dcdcde"/>
<rect x="328.06" y="486.59" width="10.1" height="6.0" fill="#e1b121"/>
<rect x="339.12" y="486.59" width="10.1" height="6.0" fill="#dcdcde"/>
<rect x="350.18" y="486.59" width="10.1" height="6.0" fill="#dcdcde"/>
<rect x="361.24" y="486.59" width="10.1" height="6.0" fill="#efeff1"/>
<rect x="372.30" y="486.59" width="10.1" height="6.0" fill="#dcdcde"/>
<rect x="383.36" y="486.59" width="10.1" height="6.0" fill="#dcdcde"/>
<rect x="394.42" y="486.59" width="10.1" height="6.0" fill="#dcdcde"/>
<rect x="405.48" y="486.59" width="10.1" height="6.0" fill="#efeff1"/>
<rect x="416.54" y="486.59" width="10.1" height="6.0" fill="#dcdcde"/>
<rect x="427.60" y="486.59" width="10.1" height="6.0" fill="#efeff1"/>
<rect x="438.66" y="486.59" width="10.1" height="6.0" fill="#dcdcde"/>
<text class="lb" transform="translate(89.8,492.29) scale(1.03,0.95)" text-anchor="end" font-size="7.2" fill="#2a2a2a">9p24–p21</text>
<rect x="95.80" y="493.35" width="10.1" height="6.0" fill="#4a8fdb"/>
<rect x="106.86" y="493.35" width="10.1" height="6.0" fill="#dcdcde"/>
<rect x="117.92" y="493.35" width="10.1" height="6.0" fill="#dcdcde"/>
<rect x="128.98" y="493.35" width="10.1" height="6.0" fill="#dcdcde"/>
<rect x="140.04" y="493.35" width="10.1" height="6.0" fill="#efeff1"/>
<rect x="151.10" y="493.35" width="10.1" height="6.0" fill="#dcdcde"/>
<rect x="162.16" y="493.35" width="10.1" height="6.0" fill="#dcdcde"/>
<rect x="173.22" y="493.35" width="10.1" height="6.0" fill="#dcdcde"/>
<rect x="184.28" y="493.35" width="10.1" height="6.0" fill="#dcdcde"/>
<rect x="195.34" y="493.35" width="10.1" height="6.0" fill="#dcdcde"/>
<rect x="206.40" y="493.35" width="10.1" height="6.0" fill="#4a8fdb"/>
<rect x="217.46" y="493.35" width="10.1" height="6.0" fill="#dcdcde"/>
<rect x="228.52" y="493.35" width="10.1" height="6.0" fill="#dcdcde"/>
<rect x="239.58" y="493.35" width="10.1" height="6.0" fill="#dcdcde"/>
<rect x="250.64" y="493.35" width="10.1" height="6.0" fill="#dcdcde"/>
<rect x="261.70" y="493.35" width="10.1" height="6.0" fill="#dcdcde"/>
<rect x="272.76" y="493.35" width="10.1" height="6.0" fill="#dcdcde"/>
<rect x="283.82" y="493.35" width="10.1" height="6.0" fill="#dcdcde"/>
<rect x="294.88" y="493.35" width="10.1" height="6.0" fill="#dcdcde"/>
<rect x="305.94" y="493.35" width="10.1" height="6.0" fill="#efeff1"/>
<rect x="317.00" y="493.35" width="10.1" height="6.0" fill="#dcdcde"/>
<rect x="328.06" y="493.35" width="10.1" height="6.0" fill="#4a8fdb"/>
<rect x="339.12" y="493.35" width="10.1" height="6.0" fill="#dcdcde"/>
<rect x="350.18" y="493.35" width="10.1" height="6.0" fill="#dcdcde"/>
<rect x="361.24" y="493.35" width="10.1" height="6.0" fill="#efeff1"/>
<rect x="372.30" y="493.35" width="10.1" height="6.0" fill="#dcdcde"/>
<rect x="383.36" y="493.35" width="10.1" height="6.0" fill="#4a8fdb"/>
<rect x="394.42" y="493.35" width="10.1" height="6.0" fill="#dcdcde"/>
<rect x="405.48" y="493.35" width="10.1" height="6.0" fill="#efeff1"/>
<rect x="416.54" y="493.35" width="10.1" height="6.0" fill="#dcdcde"/>
<rect x="427.60" y="493.35" width="10.1" height="6.0" fill="#efeff1"/>
<rect x="438.66" y="493.35" width="10.1" height="6.0" fill="#dcdcde"/>
<text class="lb" transform="translate(89.8,499.05) scale(1.03,0.95)" text-anchor="end" font-size="7.2" fill="#2a2a2a">2p16–p15 (<tspan font-style="italic">REL,BCL11A</tspan>)</text>
<rect x="95.80" y="500.10" width="10.1" height="6.0" fill="#4a8fdb"/>
<rect x="106.86" y="500.10" width="10.1" height="6.0" fill="#dcdcde"/>
<rect x="117.92" y="500.10" width="10.1" height="6.0" fill="#4a8fdb"/>
<rect x="128.98" y="500.10" width="10.1" height="6.0" fill="#dcdcde"/>
<rect x="140.04" y="500.10" width="10.1" height="6.0" fill="#efeff1"/>
<rect x="151.10" y="500.10" width="10.1" height="6.0" fill="#dcdcde"/>
<rect x="162.16" y="500.10" width="10.1" height="6.0" fill="#dcdcde"/>
<rect x="173.22" y="500.10" width="10.1" height="6.0" fill="#dcdcde"/>
<rect x="184.28" y="500.10" width="10.1" height="6.0" fill="#dcdcde"/>
<rect x="195.34" y="500.10" width="10.1" height="6.0" fill="#dcdcde"/>
<rect x="206.40" y="500.10" width="10.1" height="6.0" fill="#dcdcde"/>
<rect x="217.46" y="500.10" width="10.1" height="6.0" fill="#4a8fdb"/>
<rect x="228.52" y="500.10" width="10.1" height="6.0" fill="#dcdcde"/>
<rect x="239.58" y="500.10" width="10.1" height="6.0" fill="#dcdcde"/>
<rect x="250.64" y="500.10" width="10.1" height="6.0" fill="#dcdcde"/>
<rect x="261.70" y="500.10" width="10.1" height="6.0" fill="#dcdcde"/>
<rect x="272.76" y="500.10" width="10.1" height="6.0" fill="#dcdcde"/>
<rect x="283.82" y="500.10" width="10.1" height="6.0" fill="#dcdcde"/>
<rect x="294.88" y="500.10" width="10.1" height="6.0" fill="#dcdcde"/>
<rect x="305.94" y="500.10" width="10.1" height="6.0" fill="#efeff1"/>
<rect x="317.00" y="500.10" width="10.1" height="6.0" fill="#dcdcde"/>
<rect x="328.06" y="500.10" width="10.1" height="6.0" fill="#dcdcde"/>
<rect x="339.12" y="500.10" width="10.1" height="6.0" fill="#dcdcde"/>
<rect x="350.18" y="500.10" width="10.1" height="6.0" fill="#dcdcde"/>
<rect x="361.24" y="500.10" width="10.1" height="6.0" fill="#efeff1"/>
<rect x="372.30" y="500.10" width="10.1" height="6.0" fill="#dcdcde"/>
<rect x="383.36" y="500.10" width="10.1" height="6.0" fill="#dcdcde"/>
<rect x="394.42" y="500.10" width="10.1" height="6.0" fill="#dcdcde"/>
<rect x="405.48" y="500.10" width="10.1" height="6.0" fill="#efeff1"/>
<rect x="416.54" y="500.10" width="10.1" height="6.0" fill="#dcdcde"/>
<rect x="427.60" y="500.10" width="10.1" height="6.0" fill="#efeff1"/>
<rect x="438.66" y="500.10" width="10.1" height="6.0" fill="#4a8fdb"/>
<text class="lb" transform="translate(89.8,505.80) scale(1.03,0.95)" text-anchor="end" font-size="7.2" fill="#2a2a2a">7q21–q22</text>
<rect x="95.80" y="506.86" width="10.1" height="6.0" fill="#dcdcde"/>
<rect x="106.86" y="506.86" width="10.1" height="6.0" fill="#dcdcde"/>
<rect x="117.92" y="506.86" width="10.1" height="6.0" fill="#dcdcde"/>
<rect x="128.98" y="506.86" width="10.1" height="6.0" fill="#dcdcde"/>
<rect x="140.04" y="506.86" width="10.1" height="6.0" fill="#efeff1"/>
<rect x="151.10" y="506.86" width="10.1" height="6.0" fill="#dcdcde"/>
<rect x="162.16" y="506.86" width="10.1" height="6.0" fill="#dcdcde"/>
<rect x="173.22" y="506.86" width="10.1" height="6.0" fill="#dcdcde"/>
<rect x="184.28" y="506.86" width="10.1" height="6.0" fill="#dcdcde"/>
<rect x="195.34" y="506.86" width="10.1" height="6.0" fill="#dcdcde"/>
<rect x="206.40" y="506.86" width="10.1" height="6.0" fill="#4a8fdb"/>
<rect x="217.46" y="506.86" width="10.1" height="6.0" fill="#dcdcde"/>
<rect x="228.52" y="506.86" width="10.1" height="6.0" fill="#dcdcde"/>
<rect x="239.58" y="506.86" width="10.1" height="6.0" fill="#dcdcde"/>
<rect x="250.64" y="506.86" width="10.1" height="6.0" fill="#4a8fdb"/>
<rect x="261.70" y="506.86" width="10.1" height="6.0" fill="#dcdcde"/>
<rect x="272.76" y="506.86" width="10.1" height="6.0" fill="#4a8fdb"/>
<rect x="283.82" y="506.86" width="10.1" height="6.0" fill="#dcdcde"/>
<rect x="294.88" y="506.86" width="10.1" height="6.0" fill="#dcdcde"/>
<rect x="305.94" y="506.86" width="10.1" height="6.0" fill="#efeff1"/>
<rect x="317.00" y="506.86" width="10.1" height="6.0" fill="#dcdcde"/>
<rect x="328.06" y="506.86" width="10.1" height="6.0" fill="#dcdcde"/>
<rect x="339.12" y="506.86" width="10.1" height="6.0" fill="#dcdcde"/>
<rect x="350.18" y="506.86" width="10.1" height="6.0" fill="#dcdcde"/>
<rect x="361.24" y="506.86" width="10.1" height="6.0" fill="#efeff1"/>
<rect x="372.30" y="506.86" width="10.1" height="6.0" fill="#dcdcde"/>
<rect x="383.36" y="506.86" width="10.1" height="6.0" fill="#4a8fdb"/>
<rect x="394.42" y="506.86" width="10.1" height="6.0" fill="#dcdcde"/>
<rect x="405.48" y="506.86" width="10.1" height="6.0" fill="#efeff1"/>
<rect x="416.54" y="506.86" width="10.1" height="6.0" fill="#dcdcde"/>
<rect x="427.60" y="506.86" width="10.1" height="6.0" fill="#efeff1"/>
<rect x="438.66" y="506.86" width="10.1" height="6.0" fill="#dcdcde"/>
<text class="lb" transform="translate(89.8,512.56) scale(1.03,0.95)" text-anchor="end" font-size="7.2" fill="#2a2a2a">11q23</text>
<rect x="95.80" y="513.61" width="10.1" height="6.0" fill="#dcdcde"/>
<rect x="106.86" y="513.61" width="10.1" height="6.0" fill="#dcdcde"/>
<rect x="117.92" y="513.61" width="10.1" height="6.0" fill="#4a8fdb"/>
<rect x="128.98" y="513.61" width="10.1" height="6.0" fill="#dcdcde"/>
<rect x="140.04" y="513.61" width="10.1" height="6.0" fill="#efeff1"/>
<rect x="151.10" y="513.61" width="10.1" height="6.0" fill="#dcdcde"/>
<rect x="162.16" y="513.61" width="10.1" height="6.0" fill="#dcdcde"/>
<rect x="173.22" y="513.61" width="10.1" height="6.0" fill="#dcdcde"/>
<rect x="184.28" y="513.61" width="10.1" height="6.0" fill="#dcdcde"/>
<rect x="195.34" y="513.61" width="10.1" height="6.0" fill="#dcdcde"/>
<rect x="206.40" y="513.61" width="10.1" height="6.0" fill="#dcdcde"/>
<rect x="217.46" y="513.61" width="10.1" height="6.0" fill="#dcdcde"/>
<rect x="228.52" y="513.61" width="10.1" height="6.0" fill="#dcdcde"/>
<rect x="239.58" y="513.61" width="10.1" height="6.0" fill="#4a8fdb"/>
<rect x="250.64" y="513.61" width="10.1" height="6.0" fill="#dcdcde"/>
<rect x="261.70" y="513.61" width="10.1" height="6.0" fill="#dcdcde"/>
<rect x="272.76" y="513.61" width="10.1" height="6.0" fill="#dcdcde"/>
<rect x="283.82" y="513.61" width="10.1" height="6.0" fill="#dcdcde"/>
<rect x="294.88" y="513.61" width="10.1" height="6.0" fill="#dcdcde"/>
<rect x="305.94" y="513.61" width="10.1" height="6.0" fill="#efeff1"/>
<rect x="317.00" y="513.61" width="10.1" height="6.0" fill="#dcdcde"/>
<rect x="328.06" y="513.61" width="10.1" height="6.0" fill="#dcdcde"/>
<rect x="339.12" y="513.61" width="10.1" height="6.0" fill="#dcdcde"/>
<rect x="350.18" y="513.61" width="10.1" height="6.0" fill="#dcdcde"/>
<rect x="361.24" y="513.61" width="10.1" height="6.0" fill="#efeff1"/>
<rect x="372.30" y="513.61" width="10.1" height="6.0" fill="#4a8fdb"/>
<rect x="383.36" y="513.61" width="10.1" height="6.0" fill="#dcdcde"/>
<rect x="394.42" y="513.61" width="10.1" height="6.0" fill="#dcdcde"/>
<rect x="405.48" y="513.61" width="10.1" height="6.0" fill="#efeff1"/>
<rect x="416.54" y="513.61" width="10.1" height="6.0" fill="#4a8fdb"/>
<rect x="427.60" y="513.61" width="10.1" height="6.0" fill="#efeff1"/>
<rect x="438.66" y="513.61" width="10.1" height="6.0" fill="#dcdcde"/>
<text class="lb" transform="translate(89.8,519.31) scale(1.03,0.95)" text-anchor="end" font-size="7.2" fill="#2a2a2a">1p36</text>
<rect x="95.80" y="520.36" width="10.1" height="6.0" fill="#dcdcde"/>
<rect x="106.86" y="520.36" width="10.1" height="6.0" fill="#b0403a"/>
<rect x="117.92" y="520.36" width="10.1" height="6.0" fill="#b0403a"/>
<rect x="128.98" y="520.36" width="10.1" height="6.0" fill="#b0403a"/>
<rect x="140.04" y="520.36" width="10.1" height="6.0" fill="#efeff1"/>
<rect x="151.10" y="520.36" width="10.1" height="6.0" fill="#dcdcde"/>
<rect x="162.16" y="520.36" width="10.1" height="6.0" fill="#dcdcde"/>
<rect x="173.22" y="520.36" width="10.1" height="6.0" fill="#dcdcde"/>
<rect x="184.28" y="520.36" width="10.1" height="6.0" fill="#dcdcde"/>
<rect x="195.34" y="520.36" width="10.1" height="6.0" fill="#dcdcde"/>
<rect x="206.40" y="520.36" width="10.1" height="6.0" fill="#dcdcde"/>
<rect x="217.46" y="520.36" width="10.1" height="6.0" fill="#dcdcde"/>
<rect x="228.52" y="520.36" width="10.1" height="6.0" fill="#dcdcde"/>
<rect x="239.58" y="520.36" width="10.1" height="6.0" fill="#dcdcde"/>
<rect x="250.64" y="520.36" width="10.1" height="6.0" fill="#dcdcde"/>
<rect x="261.70" y="520.36" width="10.1" height="6.0" fill="#dcdcde"/>
<rect x="272.76" y="520.36" width="10.1" height="6.0" fill="#b0403a"/>
<rect x="283.82" y="520.36" width="10.1" height="6.0" fill="#dcdcde"/>
<rect x="294.88" y="520.36" width="10.1" height="6.0" fill="#dcdcde"/>
<rect x="305.94" y="520.36" width="10.1" height="6.0" fill="#efeff1"/>
<rect x="317.00" y="520.36" width="10.1" height="6.0" fill="#dcdcde"/>
<rect x="328.06" y="520.36" width="10.1" height="6.0" fill="#dcdcde"/>
<rect x="339.12" y="520.36" width="10.1" height="6.0" fill="#dcdcde"/>
<rect x="350.18" y="520.36" width="10.1" height="6.0" fill="#dcdcde"/>
<rect x="361.24" y="520.36" width="10.1" height="6.0" fill="#efeff1"/>
<rect x="372.30" y="520.36" width="10.1" height="6.0" fill="#dcdcde"/>
<rect x="383.36" y="520.36" width="10.1" height="6.0" fill="#dcdcde"/>
<rect x="394.42" y="520.36" width="10.1" height="6.0" fill="#dcdcde"/>
<rect x="405.48" y="520.36" width="10.1" height="6.0" fill="#efeff1"/>
<rect x="416.54" y="520.36" width="10.1" height="6.0" fill="#dcdcde"/>
<rect x="427.60" y="520.36" width="10.1" height="6.0" fill="#efeff1"/>
<rect x="438.66" y="520.36" width="10.1" height="6.0" fill="#dcdcde"/>
<text class="lb" transform="translate(89.8,526.06) scale(1.03,0.95)" text-anchor="end" font-size="7.2" fill="#2a2a2a">3p21 (<tspan font-style="italic">SETD2</tspan>)</text>
<rect x="95.80" y="527.12" width="10.1" height="6.0" fill="#dcdcde"/>
<rect x="106.86" y="527.12" width="10.1" height="6.0" fill="#4a8fdb"/>
<rect x="117.92" y="527.12" width="10.1" height="6.0" fill="#dcdcde"/>
<rect x="128.98" y="527.12" width="10.1" height="6.0" fill="#dcdcde"/>
<rect x="140.04" y="527.12" width="10.1" height="6.0" fill="#efeff1"/>
<rect x="151.10" y="527.12" width="10.1" height="6.0" fill="#dcdcde"/>
<rect x="162.16" y="527.12" width="10.1" height="6.0" fill="#dcdcde"/>
<rect x="173.22" y="527.12" width="10.1" height="6.0" fill="#dcdcde"/>
<rect x="184.28" y="527.12" width="10.1" height="6.0" fill="#dcdcde"/>
<rect x="195.34" y="527.12" width="10.1" height="6.0" fill="#dcdcde"/>
<rect x="206.40" y="527.12" width="10.1" height="6.0" fill="#dcdcde"/>
<rect x="217.46" y="527.12" width="10.1" height="6.0" fill="#dcdcde"/>
<rect x="228.52" y="527.12" width="10.1" height="6.0" fill="#4a8fdb"/>
<rect x="239.58" y="527.12" width="10.1" height="6.0" fill="#dcdcde"/>
<rect x="250.64" y="527.12" width="10.1" height="6.0" fill="#dcdcde"/>
<rect x="261.70" y="527.12" width="10.1" height="6.0" fill="#dcdcde"/>
<rect x="272.76" y="527.12" width="10.1" height="6.0" fill="#dcdcde"/>
<rect x="283.82" y="527.12" width="10.1" height="6.0" fill="#dcdcde"/>
<rect x="294.88" y="527.12" width="10.1" height="6.0" fill="#dcdcde"/>
<rect x="305.94" y="527.12" width="10.1" height="6.0" fill="#efeff1"/>
<rect x="317.00" y="527.12" width="10.1" height="6.0" fill="#dcdcde"/>
<rect x="328.06" y="527.12" width="10.1" height="6.0" fill="#dcdcde"/>
<rect x="339.12" y="527.12" width="10.1" height="6.0" fill="#dcdcde"/>
<rect x="350.18" y="527.12" width="10.1" height="6.0" fill="#dcdcde"/>
<rect x="361.24" y="527.12" width="10.1" height="6.0" fill="#efeff1"/>
<rect x="372.30" y="527.12" width="10.1" height="6.0" fill="#dcdcde"/>
<rect x="383.36" y="527.12" width="10.1" height="6.0" fill="#dcdcde"/>
<rect x="394.42" y="527.12" width="10.1" height="6.0" fill="#dcdcde"/>
<rect x="405.48" y="527.12" width="10.1" height="6.0" fill="#efeff1"/>
<rect x="416.54" y="527.12" width="10.1" height="6.0" fill="#4a8fdb"/>
<rect x="427.60" y="527.12" width="10.1" height="6.0" fill="#efeff1"/>
<rect x="438.66" y="527.12" width="10.1" height="6.0" fill="#dcdcde"/>
<text class="lb" transform="translate(89.8,532.82) scale(1.03,0.95)" text-anchor="end" font-size="7.2" fill="#2a2a2a">9q33–q34</text>
<rect x="95.80" y="533.87" width="10.1" height="6.0" fill="#dcdcde"/>
<rect x="106.86" y="533.87" width="10.1" height="6.0" fill="#dcdcde"/>
<rect x="117.92" y="533.87" width="10.1" height="6.0" fill="#4a8fdb"/>
<rect x="128.98" y="533.87" width="10.1" height="6.0" fill="#4a8fdb"/>
<rect x="140.04" y="533.87" width="10.1" height="6.0" fill="#efeff1"/>
<rect x="151.10" y="533.87" width="10.1" height="6.0" fill="#dcdcde"/>
<rect x="162.16" y="533.87" width="10.1" height="6.0" fill="#dcdcde"/>
<rect x="173.22" y="533.87" width="10.1" height="6.0" fill="#dcdcde"/>
<rect x="184.28" y="533.87" width="10.1" height="6.0" fill="#dcdcde"/>
<rect x="195.34" y="533.87" width="10.1" height="6.0" fill="#dcdcde"/>
<rect x="206.40" y="533.87" width="10.1" height="6.0" fill="#dcdcde"/>
<rect x="217.46" y="533.87" width="10.1" height="6.0" fill="#4a8fdb"/>
<rect x="228.52" y="533.87" width="10.1" height="6.0" fill="#dcdcde"/>
<rect x="239.58" y="533.87" width="10.1" height="6.0" fill="#dcdcde"/>
<rect x="250.64" y="533.87" width="10.1" height="6.0" fill="#dcdcde"/>
<rect x="261.70" y="533.87" width="10.1" height="6.0" fill="#dcdcde"/>
<rect x="272.76" y="533.87" width="10.1" height="6.0" fill="#dcdcde"/>
<rect x="283.82" y="533.87" width="10.1" height="6.0" fill="#dcdcde"/>
<rect x="294.88" y="533.87" width="10.1" height="6.0" fill="#dcdcde"/>
<rect x="305.94" y="533.87" width="10.1" height="6.0" fill="#efeff1"/>
<rect x="317.00" y="533.87" width="10.1" height="6.0" fill="#dcdcde"/>
<rect x="328.06" y="533.87" width="10.1" height="6.0" fill="#dcdcde"/>
<rect x="339.12" y="533.87" width="10.1" height="6.0" fill="#dcdcde"/>
<rect x="350.18" y="533.87" width="10.1" height="6.0" fill="#dcdcde"/>
<rect x="361.24" y="533.87" width="10.1" height="6.0" fill="#efeff1"/>
<rect x="372.30" y="533.87" width="10.1" height="6.0" fill="#dcdcde"/>
<rect x="383.36" y="533.87" width="10.1" height="6.0" fill="#dcdcde"/>
<rect x="394.42" y="533.87" width="10.1" height="6.0" fill="#dcdcde"/>
<rect x="405.48" y="533.87" width="10.1" height="6.0" fill="#efeff1"/>
<rect x="416.54" y="533.87" width="10.1" height="6.0" fill="#dcdcde"/>
<rect x="427.60" y="533.87" width="10.1" height="6.0" fill="#efeff1"/>
<rect x="438.66" y="533.87" width="10.1" height="6.0" fill="#dcdcde"/>
<text class="lb" transform="translate(89.8,539.57) scale(1.03,0.95)" text-anchor="end" font-size="7.2" fill="#2a2a2a">7p</text>
<rect x="95.80" y="540.63" width="10.1" height="6.0" fill="#b0403a"/>
<rect x="106.86" y="540.63" width="10.1" height="6.0" fill="#dcdcde"/>
<rect x="117.92" y="540.63" width="10.1" height="6.0" fill="#dcdcde"/>
<rect x="128.98" y="540.63" width="10.1" height="6.0" fill="#dcdcde"/>
<rect x="140.04" y="540.63" width="10.1" height="6.0" fill="#efeff1"/>
<rect x="151.10" y="540.63" width="10.1" height="6.0" fill="#dcdcde"/>
<rect x="162.16" y="540.63" width="10.1" height="6.0" fill="#dcdcde"/>
<rect x="173.22" y="540.63" width="10.1" height="6.0" fill="#dcdcde"/>
<rect x="184.28" y="540.63" width="10.1" height="6.0" fill="#dcdcde"/>
<rect x="195.34" y="540.63" width="10.1" height="6.0" fill="#dcdcde"/>
<rect x="206.40" y="540.63" width="10.1" height="6.0" fill="#dcdcde"/>
<rect x="217.46" y="540.63" width="10.1" height="6.0" fill="#dcdcde"/>
<rect x="228.52" y="540.63" width="10.1" height="6.0" fill="#b0403a"/>
<rect x="239.58" y="540.63" width="10.1" height="6.0" fill="#dcdcde"/>
<rect x="250.64" y="540.63" width="10.1" height="6.0" fill="#dcdcde"/>
<rect x="261.70" y="540.63" width="10.1" height="6.0" fill="#dcdcde"/>
<rect x="272.76" y="540.63" width="10.1" height="6.0" fill="#dcdcde"/>
<rect x="283.82" y="540.63" width="10.1" height="6.0" fill="#dcdcde"/>
<rect x="294.88" y="540.63" width="10.1" height="6.0" fill="#dcdcde"/>
<rect x="305.94" y="540.63" width="10.1" height="6.0" fill="#efeff1"/>
<rect x="317.00" y="540.63" width="10.1" height="6.0" fill="#dcdcde"/>
<rect x="328.06" y="540.63" width="10.1" height="6.0" fill="#dcdcde"/>
<rect x="339.12" y="540.63" width="10.1" height="6.0" fill="#dcdcde"/>
<rect x="350.18" y="540.63" width="10.1" height="6.0" fill="#dcdcde"/>
<rect x="361.24" y="540.63" width="10.1" height="6.0" fill="#efeff1"/>
<rect x="372.30" y="540.63" width="10.1" height="6.0" fill="#b0403a"/>
<rect x="383.36" y="540.63" width="10.1" height="6.0" fill="#dcdcde"/>
<rect x="394.42" y="540.63" width="10.1" height="6.0" fill="#dcdcde"/>
<rect x="405.48" y="540.63" width="10.1" height="6.0" fill="#efeff1"/>
<rect x="416.54" y="540.63" width="10.1" height="6.0" fill="#dcdcde"/>
<rect x="427.60" y="540.63" width="10.1" height="6.0" fill="#efeff1"/>
<rect x="438.66" y="540.63" width="10.1" height="6.0" fill="#dcdcde"/>
<text class="lb" transform="translate(89.8,546.33) scale(1.03,0.95)" text-anchor="end" font-size="7.2" fill="#2a2a2a">6p22–p21 (<tspan font-style="italic">HLA</tspan>)</text>
<rect x="95.80" y="547.38" width="10.1" height="6.0" fill="#dcdcde"/>
<rect x="106.86" y="547.38" width="10.1" height="6.0" fill="#dcdcde"/>
<rect x="117.92" y="547.38" width="10.1" height="6.0" fill="#dcdcde"/>
<rect x="128.98" y="547.38" width="10.1" height="6.0" fill="#b0403a"/>
<rect x="140.04" y="547.38" width="10.1" height="6.0" fill="#efeff1"/>
<rect x="151.10" y="547.38" width="10.1" height="6.0" fill="#b0403a"/>
<rect x="162.16" y="547.38" width="10.1" height="6.0" fill="#dcdcde"/>
<rect x="173.22" y="547.38" width="10.1" height="6.0" fill="#dcdcde"/>
<rect x="184.28" y="547.38" width="10.1" height="6.0" fill="#dcdcde"/>
<rect x="195.34" y="547.38" width="10.1" height="6.0" fill="#dcdcde"/>
<rect x="206.40" y="547.38" width="10.1" height="6.0" fill="#dcdcde"/>
<rect x="217.46" y="547.38" width="10.1" height="6.0" fill="#b0403a"/>
<rect x="228.52" y="547.38" width="10.1" height="6.0" fill="#dcdcde"/>
<rect x="239.58" y="547.38" width="10.1" height="6.0" fill="#dcdcde"/>
<rect x="250.64" y="547.38" width="10.1" height="6.0" fill="#dcdcde"/>
<rect x="261.70" y="547.38" width="10.1" height="6.0" fill="#dcdcde"/>
<rect x="272.76" y="547.38" width="10.1" height="6.0" fill="#dcdcde"/>
<rect x="283.82" y="547.38" width="10.1" height="6.0" fill="#dcdcde"/>
<rect x="294.88" y="547.38" width="10.1" height="6.0" fill="#dcdcde"/>
<rect x="305.94" y="547.38" width="10.1" height="6.0" fill="#efeff1"/>
<rect x="317.00" y="547.38" width="10.1" height="6.0" fill="#dcdcde"/>
<rect x="328.06" y="547.38" width="10.1" height="6.0" fill="#dcdcde"/>
<rect x="339.12" y="547.38" width="10.1" height="6.0" fill="#dcdcde"/>
<rect x="350.18" y="547.38" width="10.1" height="6.0" fill="#dcdcde"/>
<rect x="361.24" y="547.38" width="10.1" height="6.0" fill="#efeff1"/>
<rect x="372.30" y="547.38" width="10.1" height="6.0" fill="#dcdcde"/>
<rect x="383.36" y="547.38" width="10.1" height="6.0" fill="#dcdcde"/>
<rect x="394.42" y="547.38" width="10.1" height="6.0" fill="#dcdcde"/>
<rect x="405.48" y="547.38" width="10.1" height="6.0" fill="#efeff1"/>
<rect x="416.54" y="547.38" width="10.1" height="6.0" fill="#dcdcde"/>
<rect x="427.60" y="547.38" width="10.1" height="6.0" fill="#efeff1"/>
<rect x="438.66" y="547.38" width="10.1" height="6.0" fill="#dcdcde"/>
<text class="lb" transform="translate(89.8,553.08) scale(1.03,0.95)" text-anchor="end" font-size="7.2" fill="#2a2a2a">8p23–p22</text>
<rect x="95.80" y="554.13" width="10.1" height="6.0" fill="#dcdcde"/>
<rect x="106.86" y="554.13" width="10.1" height="6.0" fill="#dcdcde"/>
<rect x="117.92" y="554.13" width="10.1" height="6.0" fill="#dcdcde"/>
<rect x="128.98" y="554.13" width="10.1" height="6.0" fill="#b0403a"/>
<rect x="140.04" y="554.13" width="10.1" height="6.0" fill="#efeff1"/>
<rect x="151.10" y="554.13" width="10.1" height="6.0" fill="#b0403a"/>
<rect x="162.16" y="554.13" width="10.1" height="6.0" fill="#dcdcde"/>
<rect x="173.22" y="554.13" width="10.1" height="6.0" fill="#dcdcde"/>
<rect x="184.28" y="554.13" width="10.1" height="6.0" fill="#dcdcde"/>
<rect x="195.34" y="554.13" width="10.1" height="6.0" fill="#dcdcde"/>
<rect x="206.40" y="554.13" width="10.1" height="6.0" fill="#dcdcde"/>
<rect x="217.46" y="554.13" width="10.1" height="6.0" fill="#dcdcde"/>
<rect x="228.52" y="554.13" width="10.1" height="6.0" fill="#dcdcde"/>
<rect x="239.58" y="554.13" width="10.1" height="6.0" fill="#dcdcde"/>
<rect x="250.64" y="554.13" width="10.1" height="6.0" fill="#dcdcde"/>
<rect x="261.70" y="554.13" width="10.1" height="6.0" fill="#dcdcde"/>
<rect x="272.76" y="554.13" width="10.1" height="6.0" fill="#dcdcde"/>
<rect x="283.82" y="554.13" width="10.1" height="6.0" fill="#dcdcde"/>
<rect x="294.88" y="554.13" width="10.1" height="6.0" fill="#dcdcde"/>
<rect x="305.94" y="554.13" width="10.1" height="6.0" fill="#efeff1"/>
<rect x="317.00" y="554.13" width="10.1" height="6.0" fill="#dcdcde"/>
<rect x="328.06" y="554.13" width="10.1" height="6.0" fill="#dcdcde"/>
<rect x="339.12" y="554.13" width="10.1" height="6.0" fill="#dcdcde"/>
<rect x="350.18" y="554.13" width="10.1" height="6.0" fill="#dcdcde"/>
<rect x="361.24" y="554.13" width="10.1" height="6.0" fill="#efeff1"/>
<rect x="372.30" y="554.13" width="10.1" height="6.0" fill="#dcdcde"/>
<rect x="383.36" y="554.13" width="10.1" height="6.0" fill="#dcdcde"/>
<rect x="394.42" y="554.13" width="10.1" height="6.0" fill="#dcdcde"/>
<rect x="405.48" y="554.13" width="10.1" height="6.0" fill="#efeff1"/>
<rect x="416.54" y="554.13" width="10.1" height="6.0" fill="#dcdcde"/>
<rect x="427.60" y="554.13" width="10.1" height="6.0" fill="#efeff1"/>
<rect x="438.66" y="554.13" width="10.1" height="6.0" fill="#b0403a"/>
<text class="lb" transform="translate(89.8,559.83) scale(1.03,0.95)" text-anchor="end" font-size="7.2" fill="#2a2a2a">12p13 (<tspan font-style="italic">ETV6</tspan>)</text>
<rect x="95.80" y="560.89" width="10.1" height="6.0" fill="#dcdcde"/>
<rect x="106.86" y="560.89" width="10.1" height="6.0" fill="#dcdcde"/>
<rect x="117.92" y="560.89" width="10.1" height="6.0" fill="#dcdcde"/>
<rect x="128.98" y="560.89" width="10.1" height="6.0" fill="#dcdcde"/>
<rect x="140.04" y="560.89" width="10.1" height="6.0" fill="#efeff1"/>
<rect x="151.10" y="560.89" width="10.1" height="6.0" fill="#dcdcde"/>
<rect x="162.16" y="560.89" width="10.1" height="6.0" fill="#dcdcde"/>
<rect x="173.22" y="560.89" width="10.1" height="6.0" fill="#dcdcde"/>
<rect x="184.28" y="560.89" width="10.1" height="6.0" fill="#dcdcde"/>
<rect x="195.34" y="560.89" width="10.1" height="6.0" fill="#b0403a"/>
<rect x="206.40" y="560.89" width="10.1" height="6.0" fill="#b0403a"/>
<rect x="217.46" y="560.89" width="10.1" height="6.0" fill="#dcdcde"/>
<rect x="228.52" y="560.89" width="10.1" height="6.0" fill="#dcdcde"/>
<rect x="239.58" y="560.89" width="10.1" height="6.0" fill="#dcdcde"/>
<rect x="250.64" y="560.89" width="10.1" height="6.0" fill="#dcdcde"/>
<rect x="261.70" y="560.89" width="10.1" height="6.0" fill="#dcdcde"/>
<rect x="272.76" y="560.89" width="10.1" height="6.0" fill="#dcdcde"/>
<rect x="283.82" y="560.89" width="10.1" height="6.0" fill="#dcdcde"/>
<rect x="294.88" y="560.89" width="10.1" height="6.0" fill="#dcdcde"/>
<rect x="305.94" y="560.89" width="10.1" height="6.0" fill="#efeff1"/>
<rect x="317.00" y="560.89" width="10.1" height="6.0" fill="#dcdcde"/>
<rect x="328.06" y="560.89" width="10.1" height="6.0" fill="#dcdcde"/>
<rect x="339.12" y="560.89" width="10.1" height="6.0" fill="#dcdcde"/>
<rect x="350.18" y="560.89" width="10.1" height="6.0" fill="#dcdcde"/>
<rect x="361.24" y="560.89" width="10.1" height="6.0" fill="#efeff1"/>
<rect x="372.30" y="560.89" width="10.1" height="6.0" fill="#dcdcde"/>
<rect x="383.36" y="560.89" width="10.1" height="6.0" fill="#b0403a"/>
<rect x="394.42" y="560.89" width="10.1" height="6.0" fill="#dcdcde"/>
<rect x="405.48" y="560.89" width="10.1" height="6.0" fill="#efeff1"/>
<rect x="416.54" y="560.89" width="10.1" height="6.0" fill="#dcdcde"/>
<rect x="427.60" y="560.89" width="10.1" height="6.0" fill="#efeff1"/>
<rect x="438.66" y="560.89" width="10.1" height="6.0" fill="#dcdcde"/>
<text class="lb" transform="translate(89.8,566.59) scale(1.03,0.95)" text-anchor="end" font-size="7.2" fill="#2a2a2a">13q14 (<tspan font-style="italic">RB1,DLEU1/2</tspan>)</text>
<rect x="95.80" y="567.64" width="10.1" height="6.0" fill="#dcdcde"/>
<rect x="106.86" y="567.64" width="10.1" height="6.0" fill="#b0403a"/>
<rect x="117.92" y="567.64" width="10.1" height="6.0" fill="#dcdcde"/>
<rect x="128.98" y="567.64" width="10.1" height="6.0" fill="#dcdcde"/>
<rect x="140.04" y="567.64" width="10.1" height="6.0" fill="#efeff1"/>
<rect x="151.10" y="567.64" width="10.1" height="6.0" fill="#dcdcde"/>
<rect x="162.16" y="567.64" width="10.1" height="6.0" fill="#dcdcde"/>
<rect x="173.22" y="567.64" width="10.1" height="6.0" fill="#dcdcde"/>
<rect x="184.28" y="567.64" width="10.1" height="6.0" fill="#dcdcde"/>
<rect x="195.34" y="567.64" width="10.1" height="6.0" fill="#dcdcde"/>
<rect x="206.40" y="567.64" width="10.1" height="6.0" fill="#dcdcde"/>
<rect x="217.46" y="567.64" width="10.1" height="6.0" fill="#dcdcde"/>
<rect x="228.52" y="567.64" width="10.1" height="6.0" fill="#b0403a"/>
<rect x="239.58" y="567.64" width="10.1" height="6.0" fill="#dcdcde"/>
<rect x="250.64" y="567.64" width="10.1" height="6.0" fill="#dcdcde"/>
<rect x="261.70" y="567.64" width="10.1" height="6.0" fill="#dcdcde"/>
<rect x="272.76" y="567.64" width="10.1" height="6.0" fill="#dcdcde"/>
<rect x="283.82" y="567.64" width="10.1" height="6.0" fill="#dcdcde"/>
<rect x="294.88" y="567.64" width="10.1" height="6.0" fill="#dcdcde"/>
<rect x="305.94" y="567.64" width="10.1" height="6.0" fill="#efeff1"/>
<rect x="317.00" y="567.64" width="10.1" height="6.0" fill="#dcdcde"/>
<rect x="328.06" y="567.64" width="10.1" height="6.0" fill="#dcdcde"/>
<rect x="339.12" y="567.64" width="10.1" height="6.0" fill="#dcdcde"/>
<rect x="350.18" y="567.64" width="10.1" height="6.0" fill="#b0403a"/>
<rect x="361.24" y="567.64" width="10.1" height="6.0" fill="#efeff1"/>
<rect x="372.30" y="567.64" width="10.1" height="6.0" fill="#dcdcde"/>
<rect x="383.36" y="567.64" width="10.1" height="6.0" fill="#dcdcde"/>
<rect x="394.42" y="567.64" width="10.1" height="6.0" fill="#dcdcde"/>
<rect x="405.48" y="567.64" width="10.1" height="6.0" fill="#efeff1"/>
<rect x="416.54" y="567.64" width="10.1" height="6.0" fill="#dcdcde"/>
<rect x="427.60" y="567.64" width="10.1" height="6.0" fill="#efeff1"/>
<rect x="438.66" y="567.64" width="10.1" height="6.0" fill="#dcdcde"/>
<text class="lb" transform="translate(89.8,573.34) scale(1.03,0.95)" text-anchor="end" font-size="7.2" fill="#2a2a2a">14q32</text>
<rect x="95.80" y="574.40" width="10.1" height="6.0" fill="#dcdcde"/>
<rect x="106.86" y="574.40" width="10.1" height="6.0" fill="#e1b121"/>
<rect x="117.92" y="574.40" width="10.1" height="6.0" fill="#dcdcde"/>
<rect x="128.98" y="574.40" width="10.1" height="6.0" fill="#e1b121"/>
<rect x="140.04" y="574.40" width="10.1" height="6.0" fill="#efeff1"/>
<rect x="151.10" y="574.40" width="10.1" height="6.0" fill="#dcdcde"/>
<rect x="162.16" y="574.40" width="10.1" height="6.0" fill="#dcdcde"/>
<rect x="173.22" y="574.40" width="10.1" height="6.0" fill="#dcdcde"/>
<rect x="184.28" y="574.40" width="10.1" height="6.0" fill="#dcdcde"/>
<rect x="195.34" y="574.40" width="10.1" height="6.0" fill="#dcdcde"/>
<rect x="206.40" y="574.40" width="10.1" height="6.0" fill="#dcdcde"/>
<rect x="217.46" y="574.40" width="10.1" height="6.0" fill="#dcdcde"/>
<rect x="228.52" y="574.40" width="10.1" height="6.0" fill="#dcdcde"/>
<rect x="239.58" y="574.40" width="10.1" height="6.0" fill="#dcdcde"/>
<rect x="250.64" y="574.40" width="10.1" height="6.0" fill="#e1b121"/>
<rect x="261.70" y="574.40" width="10.1" height="6.0" fill="#dcdcde"/>
<rect x="272.76" y="574.40" width="10.1" height="6.0" fill="#dcdcde"/>
<rect x="283.82" y="574.40" width="10.1" height="6.0" fill="#dcdcde"/>
<rect x="294.88" y="574.40" width="10.1" height="6.0" fill="#dcdcde"/>
<rect x="305.94" y="574.40" width="10.1" height="6.0" fill="#efeff1"/>
<rect x="317.00" y="574.40" width="10.1" height="6.0" fill="#dcdcde"/>
<rect x="328.06" y="574.40" width="10.1" height="6.0" fill="#dcdcde"/>
<rect x="339.12" y="574.40" width="10.1" height="6.0" fill="#dcdcde"/>
<rect x="350.18" y="574.40" width="10.1" height="6.0" fill="#dcdcde"/>
<rect x="361.24" y="574.40" width="10.1" height="6.0" fill="#efeff1"/>
<rect x="372.30" y="574.40" width="10.1" height="6.0" fill="#dcdcde"/>
<rect x="383.36" y="574.40" width="10.1" height="6.0" fill="#dcdcde"/>
<rect x="394.42" y="574.40" width="10.1" height="6.0" fill="#dcdcde"/>
<rect x="405.48" y="574.40" width="10.1" height="6.0" fill="#efeff1"/>
<rect x="416.54" y="574.40" width="10.1" height="6.0" fill="#dcdcde"/>
<rect x="427.60" y="574.40" width="10.1" height="6.0" fill="#efeff1"/>
<rect x="438.66" y="574.40" width="10.1" height="6.0" fill="#dcdcde"/>
<text class="lb" transform="translate(89.8,580.10) scale(1.03,0.95)" text-anchor="end" font-size="7.2" fill="#2a2a2a">3p26–p21</text>
<text transform="translate(103.35,584.2) rotate(-90)" text-anchor="end" font-size="7.7" fill="#1e1e1e">SMZL007T</text>
<text transform="translate(114.41,584.2) rotate(-90)" text-anchor="end" font-size="7.7" fill="#1e1e1e">SMZL058T</text>
<text transform="translate(125.47,584.2) rotate(-90)" text-anchor="end" font-size="7.7" fill="#1e1e1e">SMZL026T</text>
<text transform="translate(136.53,584.2) rotate(-90)" text-anchor="end" font-size="7.7" fill="#1e1e1e">SMZL022T</text>
<text transform="translate(147.59,584.2) rotate(-90)" text-anchor="end" font-size="7.7" fill="#1e1e1e">SMZL057T</text>
<text transform="translate(158.65,584.2) rotate(-90)" text-anchor="end" font-size="7.7" fill="#1e1e1e">SMZL050T</text>
<text transform="translate(169.71,584.2) rotate(-90)" text-anchor="end" font-size="7.7" fill="#1e1e1e">SMZL014T</text>
<text transform="translate(180.77,584.2) rotate(-90)" text-anchor="end" font-size="7.7" fill="#1e1e1e">SMZL048T</text>
<text transform="translate(191.83,584.2) rotate(-90)" text-anchor="end" font-size="7.7" fill="#1e1e1e">SMZL011T</text>
<text transform="translate(202.89,584.2) rotate(-90)" text-anchor="end" font-size="7.7" fill="#1e1e1e">SMZL009T</text>
<text transform="translate(213.95,584.2) rotate(-90)" text-anchor="end" font-size="7.7" fill="#1e1e1e">SMZL045T</text>
<text transform="translate(225.01,584.2) rotate(-90)" text-anchor="end" font-size="7.7" fill="#1e1e1e">SMZL023T</text>
<text transform="translate(236.07,584.2) rotate(-90)" text-anchor="end" font-size="7.7" fill="#1e1e1e">SMZL028T</text>
<text transform="translate(247.13,584.2) rotate(-90)" text-anchor="end" font-size="7.7" fill="#1e1e1e">SMZL059T</text>
<text transform="translate(258.19,584.2) rotate(-90)" text-anchor="end" font-size="7.7" fill="#1e1e1e">SMZL005T</text>
<text transform="translate(269.25,584.2) rotate(-90)" text-anchor="end" font-size="7.7" fill="#1e1e1e">SMZL020T</text>
<text transform="translate(280.31,584.2) rotate(-90)" text-anchor="end" font-size="7.7" fill="#1e1e1e">SMZL055T</text>
<text transform="translate(291.37,584.2) rotate(-90)" text-anchor="end" font-size="7.7" fill="#1e1e1e">SMZL021T</text>
<text transform="translate(302.43,584.2) rotate(-90)" text-anchor="end" font-size="7.7" fill="#1e1e1e">SMZL001T</text>
<text transform="translate(313.49,584.2) rotate(-90)" text-anchor="end" font-size="7.7" fill="#1e1e1e">SMZL046T</text>
<text transform="translate(324.55,584.2) rotate(-90)" text-anchor="end" font-size="7.7" fill="#1e1e1e">SMZL012T</text>
<text transform="translate(335.61,584.2) rotate(-90)" text-anchor="end" font-size="7.7" fill="#1e1e1e">SMZL018T</text>
<text transform="translate(346.67,584.2) rotate(-90)" text-anchor="end" font-size="7.7" fill="#1e1e1e">SMZL016T</text>
<text transform="translate(357.73,584.2) rotate(-90)" text-anchor="end" font-size="7.7" fill="#1e1e1e">SMZL056T</text>
<text transform="translate(368.79,584.2) rotate(-90)" text-anchor="end" font-size="7.7" fill="#1e1e1e">SMZL047T</text>
<text transform="translate(379.85,584.2) rotate(-90)" text-anchor="end" font-size="7.7" fill="#1e1e1e">SMZL015T</text>
<text transform="translate(390.91,584.2) rotate(-90)" text-anchor="end" font-size="7.7" fill="#1e1e1e">SMZL052T</text>
<text transform="translate(401.97,584.2) rotate(-90)" text-anchor="end" font-size="7.7" fill="#1e1e1e">SMZL017T</text>
<text transform="translate(413.03,584.2) rotate(-90)" text-anchor="end" font-size="7.7" fill="#1e1e1e">SMZL025T</text>
<text transform="translate(424.09,584.2) rotate(-90)" text-anchor="end" font-size="7.7" fill="#1e1e1e">SMZL043T</text>
<text transform="translate(435.15,584.2) rotate(-90)" text-anchor="end" font-size="7.7" fill="#1e1e1e">SMZL044T</text>
<text transform="translate(446.21,584.2) rotate(-90)" text-anchor="end" font-size="7.7" fill="#1e1e1e">SMZL054T</text>
<rect x="458.00" y="271.00" width="32.16" height="4.8" fill="#bbbbc2"/>
<rect x="490.16" y="271.00" width="18.76" height="4.8" fill="#9e1a26"/>
<rect x="458.00" y="277.78" width="40.20" height="4.8" fill="#bbbbc2"/>
<rect x="458.00" y="284.56" width="10.72" height="4.8" fill="#bbbbc2"/>
<rect x="468.72" y="284.56" width="18.76" height="4.8" fill="#9e1a26"/>
<rect x="458.00" y="291.34" width="8.04" height="4.8" fill="#bbbbc2"/>
<rect x="466.04" y="291.34" width="18.76" height="4.8" fill="#9e1a26"/>
<rect x="458.00" y="298.12" width="26.80" height="4.8" fill="#bbbbc2"/>
<rect x="458.00" y="304.90" width="24.12" height="4.8" fill="#bbbbc2"/>
<rect x="458.00" y="311.68" width="21.44" height="4.8" fill="#bbbbc2"/>
<rect x="458.00" y="318.46" width="18.76" height="4.8" fill="#bbbbc2"/>
<rect x="458.00" y="325.24" width="16.08" height="4.8" fill="#bbbbc2"/>
<rect x="458.00" y="332.02" width="16.08" height="4.8" fill="#bbbbc2"/>
<rect x="458.00" y="338.80" width="13.40" height="4.8" fill="#bbbbc2"/>
<rect x="458.00" y="345.58" width="13.40" height="4.8" fill="#bbbbc2"/>
<rect x="458.00" y="352.36" width="13.40" height="4.8" fill="#bbbbc2"/>
<rect x="458.00" y="359.14" width="10.72" height="4.8" fill="#bbbbc2"/>
<rect x="458.00" y="365.92" width="8.04" height="4.8" fill="#bbbbc2"/>
<rect x="459.50" y="372.70" width="6.11" height="4.8" fill="#1f5a3c"/>
<rect x="458.00" y="379.48" width="8.04" height="4.8" fill="#bbbbc2"/>
<rect x="458.00" y="386.26" width="8.04" height="4.8" fill="#bbbbc2"/>
<rect x="458.00" y="393.04" width="8.04" height="4.8" fill="#bbbbc2"/>
<rect x="458.00" y="399.82" width="8.04" height="4.8" fill="#bbbbc2"/>
<rect x="458.00" y="412.90" width="21.44" height="4.8" fill="#b0403a"/>
<rect x="479.44" y="412.90" width="13.40" height="4.8" fill="#9e1a26"/>
<rect x="458.00" y="419.65" width="29.48" height="4.8" fill="#b0403a"/>
<rect x="458.00" y="426.41" width="29.48" height="4.8" fill="#4a8fdb"/>
<rect x="458.00" y="433.16" width="21.44" height="4.8" fill="#4a8fdb"/>
<rect x="479.44" y="433.16" width="2.68" height="4.8" fill="#1c2f6e"/>
<rect x="458.00" y="439.92" width="21.44" height="4.8" fill="#4a8fdb"/>
<rect x="458.00" y="446.67" width="18.76" height="4.8" fill="#b0403a"/>
<rect x="458.00" y="453.42" width="18.76" height="4.8" fill="#b0403a"/>
<rect x="458.00" y="460.18" width="16.08" height="4.8" fill="#4a8fdb"/>
<rect x="458.00" y="466.93" width="16.08" height="4.8" fill="#4a8fdb"/>
<rect x="458.00" y="473.69" width="16.08" height="4.8" fill="#4a8fdb"/>
<rect x="458.00" y="480.44" width="13.40" height="4.8" fill="#4a8fdb"/>
<rect x="458.00" y="487.19" width="13.40" height="4.8" fill="#e1b121"/>
<rect x="458.00" y="493.95" width="10.72" height="4.8" fill="#4a8fdb"/>
<rect x="458.00" y="500.70" width="10.72" height="4.8" fill="#4a8fdb"/>
<rect x="458.00" y="507.46" width="10.72" height="4.8" fill="#4a8fdb"/>
<rect x="458.00" y="514.21" width="10.72" height="4.8" fill="#4a8fdb"/>
<rect x="458.00" y="520.96" width="10.72" height="4.8" fill="#b0403a"/>
<rect x="458.00" y="527.72" width="8.04" height="4.8" fill="#4a8fdb"/>
<rect x="458.00" y="534.47" width="8.04" height="4.8" fill="#4a8fdb"/>
<rect x="458.00" y="541.23" width="8.04" height="4.8" fill="#b0403a"/>
<rect x="458.00" y="547.98" width="8.04" height="4.8" fill="#b0403a"/>
<rect x="458.00" y="554.73" width="8.04" height="4.8" fill="#b0403a"/>
<rect x="458.00" y="561.49" width="8.04" height="4.8" fill="#b0403a"/>
<rect x="458.00" y="568.24" width="8.04" height="4.8" fill="#b0403a"/>
<rect x="458.00" y="575.00" width="8.04" height="4.8" fill="#e1b121"/>
<line x1="457.4" y1="270.2" x2="457.4" y2="587.8" stroke="#222" stroke-width="1"/>
<line x1="457" y1="587.4" x2="509.7" y2="587.4" stroke="#222" stroke-width="1"/>
<line x1="457.40" y1="587.4" x2="457.40" y2="589.8" stroke="#222" stroke-width="0.9"/>
<text x="457.40" y="599.6" text-anchor="middle" font-size="7.6" fill="#333">0</text>
<line x1="484.66" y1="587.4" x2="484.66" y2="589.8" stroke="#222" stroke-width="0.9"/>
<text x="484.66" y="599.6" text-anchor="middle" font-size="7.6" fill="#333">10</text>
<line x1="509.19" y1="587.4" x2="509.19" y2="589.8" stroke="#222" stroke-width="0.9"/>
<text x="509.19" y="599.6" text-anchor="middle" font-size="7.6" fill="#333">19</text>
<text class="bx" transform="translate(483.1,612.6) scale(0.76,1)" text-anchor="middle" font-size="8.3" fill="#222">Frequency (n)</text>
<rect x="161.0" y="629.2" width="6.9" height="6.7" fill="#1f5a3c"/>
<text x="171.5" y="634.7" font-size="6.85" fill="#2a2a2a">Translocation</text>
<rect x="161.0" y="640.1" width="6.9" height="6.7" fill="#bbbbc2"/>
<text x="171.5" y="645.6" font-size="6.85" fill="#2a2a2a">SNV/indel</text>
<rect x="223.9" y="629.2" width="6.9" height="6.7" fill="#4a8fdb"/>
<text x="234.4" y="634.7" font-size="6.85" fill="#2a2a2a">Gain</text>
<rect x="223.9" y="640.1" width="6.9" height="6.7" fill="#1c2f6e"/>
<text x="234.4" y="645.6" font-size="6.85" fill="#2a2a2a">High copy gain</text>
<rect x="294.8" y="629.2" width="6.9" height="6.7" fill="#b0403a"/>
<text x="305.3" y="634.7" font-size="6.85" fill="#2a2a2a">Loss</text>
<rect x="294.8" y="640.1" width="6.9" height="6.7" fill="#9e1a26"/>
<text x="305.3" y="645.6" font-size="6.85" fill="#2a2a2a">Homozygous loss</text>
<rect x="365.6" y="629.4" width="6.9" height="6.7" fill="#e1b121"/>
<text x="376.1" y="634.9" font-size="6.85" fill="#2a2a2a">CN-loss</text>
<text x="375.6" y="645.8" font-size="6.85" fill="#2a2a2a">of heterozygosity</text>
<rect x="0.5" y="0.5" width="519" height="653" fill="none" stroke="#5e5e5e" stroke-width="1"/>
</svg>
</body></html>
